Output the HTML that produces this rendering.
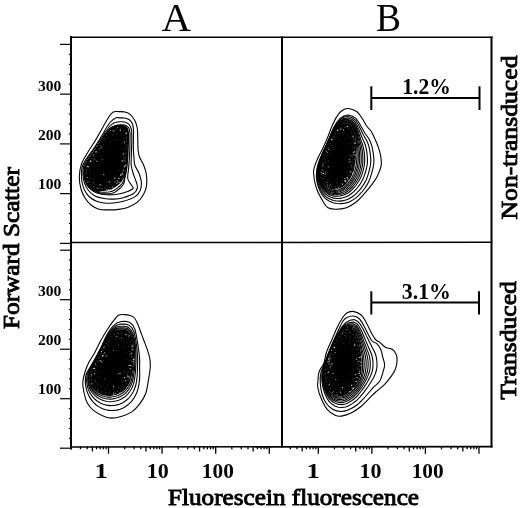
<!DOCTYPE html>
<html><head><meta charset="utf-8"><style>
html,body{margin:0;padding:0;background:#fff;overflow:hidden;width:520px;height:508px;}
svg{display:block;filter:grayscale(1);}
text{font-family:"Liberation Serif",serif;fill:#000;}
</style></head><body>
<svg width="520" height="508" viewBox="0 0 520 508">
<rect width="520" height="508" fill="#fff"/>
<line x1="71.00" y1="36.00" x2="71.00" y2="449.50" stroke="#000" stroke-width="2.00"/>
<line x1="282.00" y1="36.50" x2="282.00" y2="447.50" stroke="#000" stroke-width="2.00"/>
<line x1="491.50" y1="36.50" x2="491.50" y2="447.50" stroke="#000" stroke-width="2.00"/>
<line x1="70.00" y1="37.20" x2="492.50" y2="37.20" stroke="#000" stroke-width="1.40"/>
<line x1="70.00" y1="242.60" x2="492.50" y2="242.30" stroke="#000" stroke-width="1.50"/>
<line x1="70.00" y1="447.00" x2="492.50" y2="446.60" stroke="#000" stroke-width="1.60"/>
<line x1="60.00" y1="44.40" x2="71.00" y2="44.40" stroke="#000" stroke-width="1.20"/>
<line x1="60.00" y1="94.15" x2="71.00" y2="94.15" stroke="#000" stroke-width="1.20"/>
<line x1="60.00" y1="143.90" x2="71.00" y2="143.90" stroke="#000" stroke-width="1.20"/>
<line x1="60.00" y1="193.65" x2="71.00" y2="193.65" stroke="#000" stroke-width="1.20"/>
<line x1="60.00" y1="243.40" x2="71.00" y2="243.40" stroke="#000" stroke-width="1.20"/>
<line x1="68.80" y1="54.35" x2="71.00" y2="54.35" stroke="#000" stroke-width="1.10"/>
<line x1="68.80" y1="64.30" x2="71.00" y2="64.30" stroke="#000" stroke-width="1.10"/>
<line x1="68.80" y1="74.25" x2="71.00" y2="74.25" stroke="#000" stroke-width="1.10"/>
<line x1="68.80" y1="84.20" x2="71.00" y2="84.20" stroke="#000" stroke-width="1.10"/>
<line x1="68.80" y1="104.10" x2="71.00" y2="104.10" stroke="#000" stroke-width="1.10"/>
<line x1="68.80" y1="114.05" x2="71.00" y2="114.05" stroke="#000" stroke-width="1.10"/>
<line x1="68.80" y1="124.00" x2="71.00" y2="124.00" stroke="#000" stroke-width="1.10"/>
<line x1="68.80" y1="133.95" x2="71.00" y2="133.95" stroke="#000" stroke-width="1.10"/>
<line x1="68.80" y1="153.85" x2="71.00" y2="153.85" stroke="#000" stroke-width="1.10"/>
<line x1="68.80" y1="163.80" x2="71.00" y2="163.80" stroke="#000" stroke-width="1.10"/>
<line x1="68.80" y1="173.75" x2="71.00" y2="173.75" stroke="#000" stroke-width="1.10"/>
<line x1="68.80" y1="183.70" x2="71.00" y2="183.70" stroke="#000" stroke-width="1.10"/>
<line x1="68.80" y1="203.60" x2="71.00" y2="203.60" stroke="#000" stroke-width="1.10"/>
<line x1="68.80" y1="213.55" x2="71.00" y2="213.55" stroke="#000" stroke-width="1.10"/>
<line x1="68.80" y1="223.50" x2="71.00" y2="223.50" stroke="#000" stroke-width="1.10"/>
<line x1="68.80" y1="233.45" x2="71.00" y2="233.45" stroke="#000" stroke-width="1.10"/>
<line x1="60.00" y1="250.20" x2="71.00" y2="250.20" stroke="#000" stroke-width="1.20"/>
<line x1="60.00" y1="299.70" x2="71.00" y2="299.70" stroke="#000" stroke-width="1.20"/>
<line x1="60.00" y1="349.20" x2="71.00" y2="349.20" stroke="#000" stroke-width="1.20"/>
<line x1="60.00" y1="398.70" x2="71.00" y2="398.70" stroke="#000" stroke-width="1.20"/>
<line x1="60.00" y1="448.20" x2="71.00" y2="448.20" stroke="#000" stroke-width="1.20"/>
<line x1="68.80" y1="260.10" x2="71.00" y2="260.10" stroke="#000" stroke-width="1.10"/>
<line x1="68.80" y1="270.00" x2="71.00" y2="270.00" stroke="#000" stroke-width="1.10"/>
<line x1="68.80" y1="279.90" x2="71.00" y2="279.90" stroke="#000" stroke-width="1.10"/>
<line x1="68.80" y1="289.80" x2="71.00" y2="289.80" stroke="#000" stroke-width="1.10"/>
<line x1="68.80" y1="309.60" x2="71.00" y2="309.60" stroke="#000" stroke-width="1.10"/>
<line x1="68.80" y1="319.50" x2="71.00" y2="319.50" stroke="#000" stroke-width="1.10"/>
<line x1="68.80" y1="329.40" x2="71.00" y2="329.40" stroke="#000" stroke-width="1.10"/>
<line x1="68.80" y1="339.30" x2="71.00" y2="339.30" stroke="#000" stroke-width="1.10"/>
<line x1="68.80" y1="359.10" x2="71.00" y2="359.10" stroke="#000" stroke-width="1.10"/>
<line x1="68.80" y1="369.00" x2="71.00" y2="369.00" stroke="#000" stroke-width="1.10"/>
<line x1="68.80" y1="378.90" x2="71.00" y2="378.90" stroke="#000" stroke-width="1.10"/>
<line x1="68.80" y1="388.80" x2="71.00" y2="388.80" stroke="#000" stroke-width="1.10"/>
<line x1="68.80" y1="408.60" x2="71.00" y2="408.60" stroke="#000" stroke-width="1.10"/>
<line x1="68.80" y1="418.50" x2="71.00" y2="418.50" stroke="#000" stroke-width="1.10"/>
<line x1="68.80" y1="428.40" x2="71.00" y2="428.40" stroke="#000" stroke-width="1.10"/>
<line x1="68.80" y1="438.30" x2="71.00" y2="438.30" stroke="#000" stroke-width="1.10"/>
<line x1="80.47" y1="446.50" x2="80.47" y2="449.30" stroke="#000" stroke-width="1.30"/>
<line x1="87.17" y1="446.50" x2="87.17" y2="449.30" stroke="#000" stroke-width="1.30"/>
<line x1="92.36" y1="446.50" x2="92.36" y2="451.50" stroke="#000" stroke-width="1.30"/>
<line x1="96.61" y1="446.50" x2="96.61" y2="449.30" stroke="#000" stroke-width="1.30"/>
<line x1="100.20" y1="446.50" x2="100.20" y2="449.30" stroke="#000" stroke-width="1.30"/>
<line x1="103.31" y1="446.50" x2="103.31" y2="449.30" stroke="#000" stroke-width="1.30"/>
<line x1="106.05" y1="446.50" x2="106.05" y2="449.30" stroke="#000" stroke-width="1.30"/>
<line x1="108.50" y1="446.50" x2="108.50" y2="453.80" stroke="#000" stroke-width="1.30"/>
<line x1="124.64" y1="446.50" x2="124.64" y2="449.30" stroke="#000" stroke-width="1.30"/>
<line x1="134.07" y1="446.50" x2="134.07" y2="449.30" stroke="#000" stroke-width="1.30"/>
<line x1="140.77" y1="446.50" x2="140.77" y2="449.30" stroke="#000" stroke-width="1.30"/>
<line x1="145.96" y1="446.50" x2="145.96" y2="451.50" stroke="#000" stroke-width="1.30"/>
<line x1="150.21" y1="446.50" x2="150.21" y2="449.30" stroke="#000" stroke-width="1.30"/>
<line x1="153.80" y1="446.50" x2="153.80" y2="449.30" stroke="#000" stroke-width="1.30"/>
<line x1="156.91" y1="446.50" x2="156.91" y2="449.30" stroke="#000" stroke-width="1.30"/>
<line x1="159.65" y1="446.50" x2="159.65" y2="449.30" stroke="#000" stroke-width="1.30"/>
<line x1="162.10" y1="446.50" x2="162.10" y2="453.80" stroke="#000" stroke-width="1.30"/>
<line x1="178.24" y1="446.50" x2="178.24" y2="449.30" stroke="#000" stroke-width="1.30"/>
<line x1="187.67" y1="446.50" x2="187.67" y2="449.30" stroke="#000" stroke-width="1.30"/>
<line x1="194.37" y1="446.50" x2="194.37" y2="449.30" stroke="#000" stroke-width="1.30"/>
<line x1="199.56" y1="446.50" x2="199.56" y2="451.50" stroke="#000" stroke-width="1.30"/>
<line x1="203.81" y1="446.50" x2="203.81" y2="449.30" stroke="#000" stroke-width="1.30"/>
<line x1="207.40" y1="446.50" x2="207.40" y2="449.30" stroke="#000" stroke-width="1.30"/>
<line x1="210.51" y1="446.50" x2="210.51" y2="449.30" stroke="#000" stroke-width="1.30"/>
<line x1="213.25" y1="446.50" x2="213.25" y2="449.30" stroke="#000" stroke-width="1.30"/>
<line x1="215.70" y1="446.50" x2="215.70" y2="453.80" stroke="#000" stroke-width="1.30"/>
<line x1="231.84" y1="446.50" x2="231.84" y2="449.30" stroke="#000" stroke-width="1.30"/>
<line x1="241.27" y1="446.50" x2="241.27" y2="449.30" stroke="#000" stroke-width="1.30"/>
<line x1="247.97" y1="446.50" x2="247.97" y2="449.30" stroke="#000" stroke-width="1.30"/>
<line x1="253.16" y1="446.50" x2="253.16" y2="451.50" stroke="#000" stroke-width="1.30"/>
<line x1="257.41" y1="446.50" x2="257.41" y2="449.30" stroke="#000" stroke-width="1.30"/>
<line x1="261.00" y1="446.50" x2="261.00" y2="449.30" stroke="#000" stroke-width="1.30"/>
<line x1="264.11" y1="446.50" x2="264.11" y2="449.30" stroke="#000" stroke-width="1.30"/>
<line x1="266.85" y1="446.50" x2="266.85" y2="449.30" stroke="#000" stroke-width="1.30"/>
<line x1="269.30" y1="446.50" x2="269.30" y2="453.80" stroke="#000" stroke-width="1.30"/>
<line x1="290.30" y1="446.50" x2="290.30" y2="449.30" stroke="#000" stroke-width="1.30"/>
<line x1="296.99" y1="446.50" x2="296.99" y2="449.30" stroke="#000" stroke-width="1.30"/>
<line x1="302.18" y1="446.50" x2="302.18" y2="451.50" stroke="#000" stroke-width="1.30"/>
<line x1="306.42" y1="446.50" x2="306.42" y2="449.30" stroke="#000" stroke-width="1.30"/>
<line x1="310.01" y1="446.50" x2="310.01" y2="449.30" stroke="#000" stroke-width="1.30"/>
<line x1="313.11" y1="446.50" x2="313.11" y2="449.30" stroke="#000" stroke-width="1.30"/>
<line x1="315.85" y1="446.50" x2="315.85" y2="449.30" stroke="#000" stroke-width="1.30"/>
<line x1="318.30" y1="446.50" x2="318.30" y2="453.80" stroke="#000" stroke-width="1.30"/>
<line x1="334.42" y1="446.50" x2="334.42" y2="449.30" stroke="#000" stroke-width="1.30"/>
<line x1="343.85" y1="446.50" x2="343.85" y2="449.30" stroke="#000" stroke-width="1.30"/>
<line x1="350.54" y1="446.50" x2="350.54" y2="449.30" stroke="#000" stroke-width="1.30"/>
<line x1="355.73" y1="446.50" x2="355.73" y2="451.50" stroke="#000" stroke-width="1.30"/>
<line x1="359.97" y1="446.50" x2="359.97" y2="449.30" stroke="#000" stroke-width="1.30"/>
<line x1="363.56" y1="446.50" x2="363.56" y2="449.30" stroke="#000" stroke-width="1.30"/>
<line x1="366.66" y1="446.50" x2="366.66" y2="449.30" stroke="#000" stroke-width="1.30"/>
<line x1="369.40" y1="446.50" x2="369.40" y2="449.30" stroke="#000" stroke-width="1.30"/>
<line x1="371.85" y1="446.50" x2="371.85" y2="453.80" stroke="#000" stroke-width="1.30"/>
<line x1="387.97" y1="446.50" x2="387.97" y2="449.30" stroke="#000" stroke-width="1.30"/>
<line x1="397.40" y1="446.50" x2="397.40" y2="449.30" stroke="#000" stroke-width="1.30"/>
<line x1="404.09" y1="446.50" x2="404.09" y2="449.30" stroke="#000" stroke-width="1.30"/>
<line x1="409.28" y1="446.50" x2="409.28" y2="451.50" stroke="#000" stroke-width="1.30"/>
<line x1="413.52" y1="446.50" x2="413.52" y2="449.30" stroke="#000" stroke-width="1.30"/>
<line x1="417.11" y1="446.50" x2="417.11" y2="449.30" stroke="#000" stroke-width="1.30"/>
<line x1="420.21" y1="446.50" x2="420.21" y2="449.30" stroke="#000" stroke-width="1.30"/>
<line x1="422.95" y1="446.50" x2="422.95" y2="449.30" stroke="#000" stroke-width="1.30"/>
<line x1="425.40" y1="446.50" x2="425.40" y2="453.80" stroke="#000" stroke-width="1.30"/>
<line x1="441.52" y1="446.50" x2="441.52" y2="449.30" stroke="#000" stroke-width="1.30"/>
<line x1="450.95" y1="446.50" x2="450.95" y2="449.30" stroke="#000" stroke-width="1.30"/>
<line x1="457.64" y1="446.50" x2="457.64" y2="449.30" stroke="#000" stroke-width="1.30"/>
<line x1="462.83" y1="446.50" x2="462.83" y2="451.50" stroke="#000" stroke-width="1.30"/>
<line x1="467.07" y1="446.50" x2="467.07" y2="449.30" stroke="#000" stroke-width="1.30"/>
<line x1="470.66" y1="446.50" x2="470.66" y2="449.30" stroke="#000" stroke-width="1.30"/>
<line x1="473.76" y1="446.50" x2="473.76" y2="449.30" stroke="#000" stroke-width="1.30"/>
<line x1="476.50" y1="446.50" x2="476.50" y2="449.30" stroke="#000" stroke-width="1.30"/>
<line x1="478.95" y1="446.50" x2="478.95" y2="453.80" stroke="#000" stroke-width="1.30"/>
<line x1="371.30" y1="86.30" x2="371.30" y2="110.00" stroke="#000" stroke-width="2.00"/>
<line x1="479.50" y1="86.30" x2="479.50" y2="110.00" stroke="#000" stroke-width="2.00"/>
<line x1="371.30" y1="98.00" x2="479.50" y2="98.00" stroke="#000" stroke-width="2.00"/>
<line x1="371.30" y1="291.30" x2="371.30" y2="314.50" stroke="#000" stroke-width="2.00"/>
<line x1="479.00" y1="291.30" x2="479.00" y2="314.50" stroke="#000" stroke-width="2.00"/>
<line x1="371.30" y1="302.50" x2="479.00" y2="302.50" stroke="#000" stroke-width="2.00"/>
<path d="M113.20,112.00 C114.95,111.02 117.12,111.62 119.00,111.60 C120.88,111.58 122.75,111.52 124.50,111.90 C126.25,112.28 127.85,112.58 129.50,113.90 C131.15,115.22 133.23,117.95 134.40,119.80 C135.57,121.65 135.98,123.30 136.50,125.00 C137.02,126.70 137.28,127.50 137.50,130.00 C137.72,132.50 137.70,136.67 137.80,140.00 C137.90,143.33 137.82,147.17 138.10,150.00 C138.38,152.83 138.58,154.50 139.50,157.00 C140.42,159.50 142.47,162.20 143.60,165.00 C144.73,167.80 145.80,170.40 146.30,173.80 C146.80,177.20 147.05,182.00 146.60,185.40 C146.15,188.80 145.13,191.40 143.60,194.20 C142.07,197.00 140.05,199.98 137.40,202.20 C134.75,204.42 130.80,206.30 127.70,207.50 C124.60,208.70 122.08,209.00 118.80,209.40 C115.52,209.80 111.30,209.92 108.00,209.90 C104.70,209.88 101.83,210.12 99.00,209.30 C96.17,208.48 93.33,206.88 91.00,205.00 C88.67,203.12 86.67,200.67 85.00,198.00 C83.33,195.33 81.95,192.50 81.00,189.00 C80.05,185.50 79.22,181.17 79.30,177.00 C79.38,172.83 80.05,168.17 81.50,164.00 C82.95,159.83 85.58,156.10 88.00,152.00 C90.42,147.90 93.50,143.57 96.00,139.40 C98.50,135.23 100.92,130.65 103.00,127.00 C105.08,123.35 106.80,120.00 108.50,117.50 C110.20,115.00 111.45,112.98 113.20,112.00Z" fill="none" stroke="#000" stroke-width="1.10"/>
<path d="M116.00,117.70 C117.67,116.93 118.58,117.85 120.00,117.90 C121.42,117.95 123.00,117.73 124.50,118.00 C126.00,118.27 127.70,118.58 129.00,119.50 C130.30,120.42 131.55,121.75 132.30,123.50 C133.05,125.25 133.32,127.25 133.50,130.00 C133.68,132.75 133.42,136.67 133.40,140.00 C133.38,143.33 133.30,147.00 133.40,150.00 C133.50,153.00 133.77,155.50 134.00,158.00 C134.23,160.50 133.93,162.37 134.80,165.00 C135.67,167.63 138.10,170.85 139.20,173.80 C140.30,176.75 141.25,179.88 141.40,182.70 C141.55,185.52 141.20,188.33 140.10,190.70 C139.00,193.07 137.60,195.13 134.80,196.90 C132.00,198.67 126.85,200.28 123.30,201.30 C119.75,202.32 116.72,202.72 113.50,203.00 C110.28,203.28 106.92,203.33 104.00,203.00 C101.08,202.67 98.50,202.08 96.00,201.00 C93.50,199.92 90.92,198.33 89.00,196.50 C87.08,194.67 85.67,192.42 84.50,190.00 C83.33,187.58 82.50,184.50 82.00,182.00 C81.50,179.50 81.47,177.50 81.50,175.00 C81.53,172.50 81.53,169.50 82.20,167.00 C82.87,164.50 83.75,162.83 85.50,160.00 C87.25,157.17 90.62,153.00 92.70,150.00 C94.78,147.00 96.12,145.00 98.00,142.00 C99.88,139.00 102.00,135.25 104.00,132.00 C106.00,128.75 108.00,124.88 110.00,122.50 C112.00,120.12 114.33,118.47 116.00,117.70Z" fill="none" stroke="#000" stroke-width="1.10"/>
<path d="M118.00,122.00 C119.33,121.80 120.67,121.72 122.00,121.80 C123.33,121.88 124.75,121.97 126.00,122.50 C127.25,123.03 128.58,123.75 129.50,125.00 C130.42,126.25 131.12,127.50 131.50,130.00 C131.88,132.50 131.80,136.67 131.80,140.00 C131.80,143.33 131.60,146.67 131.50,150.00 C131.40,153.33 131.25,157.50 131.20,160.00 C131.15,162.50 130.90,162.83 131.20,165.00 C131.50,167.17 132.12,170.05 133.00,173.00 C133.88,175.95 135.77,180.20 136.50,182.70 C137.23,185.20 137.83,186.23 137.40,188.00 C136.97,189.77 136.25,191.68 133.90,193.30 C131.55,194.92 126.70,196.73 123.30,197.70 C119.90,198.67 116.72,198.97 113.50,199.10 C110.28,199.23 107.08,199.02 104.00,198.50 C100.92,197.98 97.58,197.33 95.00,196.00 C92.42,194.67 90.25,192.67 88.50,190.50 C86.75,188.33 85.42,185.58 84.50,183.00 C83.58,180.42 83.17,177.67 83.00,175.00 C82.83,172.33 82.83,169.58 83.50,167.00 C84.17,164.42 85.33,162.33 87.00,159.50 C88.67,156.67 91.50,152.92 93.50,150.00 C95.50,147.08 97.17,144.75 99.00,142.00 C100.83,139.25 102.67,136.17 104.50,133.50 C106.33,130.83 108.42,127.75 110.00,126.00 C111.58,124.25 112.67,123.67 114.00,123.00 C115.33,122.33 116.67,122.20 118.00,122.00Z" fill="none" stroke="#000" stroke-width="1.10"/>
<path d="M118.50,125.00 C119.67,124.83 120.75,124.72 122.00,124.80 C123.25,124.88 124.87,124.97 126.00,125.50 C127.13,126.03 128.13,126.75 128.80,128.00 C129.47,129.25 129.80,131.00 130.00,133.00 C130.20,135.00 130.03,137.17 130.00,140.00 C129.97,142.83 129.93,146.67 129.80,150.00 C129.67,153.33 129.40,156.92 129.20,160.00 C129.00,163.08 128.85,165.45 128.60,168.50 C128.35,171.55 127.40,175.78 127.70,178.30 C128.00,180.82 129.48,181.98 130.40,183.60 C131.32,185.22 132.92,187.07 133.20,188.00 C133.48,188.93 133.02,188.62 132.10,189.20 C131.18,189.78 130.20,190.67 127.70,191.50 C125.20,192.33 120.55,193.65 117.10,194.20 C113.65,194.75 110.35,195.00 107.00,194.80 C103.65,194.60 99.83,194.05 97.00,193.00 C94.17,191.95 91.87,190.33 90.00,188.50 C88.13,186.67 86.80,184.25 85.80,182.00 C84.80,179.75 84.22,177.42 84.00,175.00 C83.78,172.58 83.83,170.00 84.50,167.50 C85.17,165.00 86.33,162.75 88.00,160.00 C89.67,157.25 92.50,153.83 94.50,151.00 C96.50,148.17 98.17,145.75 100.00,143.00 C101.83,140.25 103.67,137.00 105.50,134.50 C107.33,132.00 109.42,129.45 111.00,128.00 C112.58,126.55 113.75,126.30 115.00,125.80 C116.25,125.30 117.33,125.17 118.50,125.00Z" fill="none" stroke="#000" stroke-width="1.10"/>
<path d="M126.98,166.00 L126.82,167.47 L126.64,168.93 L126.44,170.40 L126.19,171.89 L125.89,173.41 L125.55,174.98 L125.17,176.62 L124.81,178.43 L124.52,180.52 L124.06,182.75 L123.13,184.76 L121.81,186.46 L120.27,188.02 L118.56,189.53 L116.70,191.00 L114.65,192.36 L112.38,193.17 L110.00,193.56 L107.57,193.72 L105.12,193.69 L102.65,193.45 L100.19,192.94 L97.79,192.19 L95.44,191.21 L93.19,190.00 L91.09,188.54 L89.23,186.77 L87.79,184.63 L86.77,182.27 L85.96,179.88 L85.35,177.50 L85.04,175.08 L85.01,172.70 L85.15,170.38 L85.51,168.14 L86.13,166.00 L87.00,163.99 L88.02,162.12 L89.07,160.39 L90.13,158.77 L91.21,157.24 L92.28,155.77 L93.33,154.33 L94.37,152.89 L95.41,151.41 L96.48,149.88 L97.59,148.28 L98.77,146.56 L100.05,144.67 L101.45,142.52 L103.03,139.98 L104.90,137.06 L107.20,133.98 L110.00,130.87 L113.29,128.43 L116.79,127.51 L120.40,127.19 L123.99,127.56 L126.97,129.60 L128.33,134.25 L128.30,139.86 L128.20,144.31 L128.08,147.92 L127.96,150.93 L127.86,153.49 L127.76,155.75 L127.65,157.77 L127.53,159.62 L127.40,161.34 L127.26,162.96 L127.12,164.50Z" fill="none" stroke="#000" stroke-width="1.10"/>
<path d="M126.74,166.00 L126.54,167.45 L126.32,168.88 L126.10,170.31 L125.86,171.77 L125.59,173.27 L125.27,174.82 L124.89,176.42 L124.42,178.10 L123.90,179.90 L123.19,181.72 L122.17,183.39 L120.91,184.89 L119.46,186.29 L117.88,187.64 L116.15,188.95 L114.27,190.21 L112.20,191.14 L110.00,191.68 L107.72,192.01 L105.38,192.20 L102.97,192.23 L100.51,192.07 L98.04,191.66 L95.56,191.01 L93.14,190.08 L90.88,188.78 L88.91,187.09 L87.33,185.02 L86.17,182.68 L85.35,180.23 L84.77,177.77 L84.45,175.30 L84.37,172.87 L84.52,170.49 L84.90,168.20 L85.52,166.00 L86.41,163.94 L87.45,162.02 L88.51,160.24 L89.58,158.57 L90.68,156.99 L91.76,155.47 L92.83,153.98 L93.89,152.48 L94.94,150.94 L96.03,149.35 L97.16,147.66 L98.36,145.84 L99.67,143.85 L101.10,141.55 L102.72,138.84 L104.67,135.78 L107.07,132.53 L110.00,129.31 L113.40,127.15 L117.00,126.28 L120.74,125.93 L124.37,126.52 L127.32,128.86 L128.49,133.97 L128.31,139.86 L128.06,144.48 L127.84,148.16 L127.71,151.14 L127.65,153.64 L127.60,155.84 L127.53,157.83 L127.42,159.66 L127.28,161.37 L127.11,162.98 L126.93,164.52Z" fill="none" stroke="#000" stroke-width="1.10"/>
<path d="M119.00,124.80 C121.17,124.50 122.62,124.75 124.00,125.20 C125.38,125.65 126.53,126.37 127.30,127.50 C128.07,128.63 128.43,129.92 128.60,132.00 C128.77,134.08 128.48,137.00 128.30,140.00 C128.12,143.00 127.67,146.67 127.50,150.00 C127.33,153.33 127.57,156.77 127.30,160.00 C127.03,163.23 126.42,166.50 125.90,169.40 C125.38,172.30 125.08,175.18 124.20,177.40 C123.32,179.62 122.08,181.08 120.60,182.70 C119.12,184.32 117.07,185.92 115.30,187.10 C113.53,188.28 112.55,189.12 110.00,189.80 C107.45,190.48 103.08,191.25 100.00,191.20 C96.92,191.15 93.83,190.70 91.50,189.50 C89.17,188.30 87.28,186.42 86.00,184.00 C84.72,181.58 84.03,177.83 83.80,175.00 C83.57,172.17 83.90,169.50 84.60,167.00 C85.30,164.50 86.47,162.58 88.00,160.00 C89.53,157.42 91.92,154.33 93.80,151.50 C95.68,148.67 97.47,145.92 99.30,143.00 C101.13,140.08 102.85,136.67 104.80,134.00 C106.75,131.33 108.63,128.53 111.00,127.00 C113.37,125.47 116.83,125.10 119.00,124.80Z" fill="#000"/>
<path d="M124.85,166.00 L124.63,167.28 L124.40,168.54 L124.18,169.80 L123.97,171.09 L123.75,172.41 L123.49,173.79 L123.14,175.20 L122.64,176.60 L121.95,177.95 L121.09,179.22 L120.09,180.42 L119.00,181.59 L117.79,182.70 L116.47,183.77 L115.04,184.81 L113.50,185.85 L111.82,186.79 L110.00,187.42 L108.09,187.87 L106.08,188.23 L103.97,188.52 L101.75,188.68 L99.46,188.61 L97.11,188.33 L94.77,187.75 L92.61,186.73 L90.72,185.28 L89.18,183.47 L88.02,181.39 L87.26,179.13 L86.77,176.83 L86.46,174.57 L86.36,172.34 L86.49,170.14 L86.86,168.02 L87.43,166.00 L88.23,164.10 L89.18,162.33 L90.15,160.68 L91.13,159.13 L92.13,157.67 L93.12,156.25 L94.10,154.87 L95.07,153.47 L96.03,152.03 L97.02,150.53 L98.05,148.94 L99.16,147.22 L100.36,145.32 L101.67,143.12 L103.18,140.53 L105.00,137.65 L107.25,134.58 L110.00,131.57 L113.16,129.87 L116.50,129.14 L119.97,128.81 L123.27,129.53 L125.90,131.90 L126.78,136.93 L126.48,142.47 L126.12,146.79 L125.84,150.16 L125.71,152.82 L125.69,155.01 L125.69,156.94 L125.67,158.69 L125.59,160.33 L125.45,161.86 L125.27,163.31 L125.06,164.68Z" fill="none" stroke="#fff" stroke-opacity="0.45" stroke-width="0.6" stroke-dasharray="1.5 2.5" stroke-dashoffset="0.0"/>
<path d="M122.87,166.00 L122.68,167.11 L122.48,168.20 L122.29,169.29 L122.11,170.41 L121.92,171.56 L121.69,172.75 L121.39,173.97 L120.95,175.19 L120.36,176.36 L119.61,177.45 L118.75,178.49 L117.80,179.51 L116.75,180.48 L115.61,181.40 L114.37,182.30 L113.03,183.20 L111.58,184.02 L110.00,184.56 L108.34,184.95 L106.60,185.27 L104.77,185.52 L102.85,185.65 L100.86,185.60 L98.82,185.36 L96.80,184.85 L94.93,183.96 L93.29,182.71 L91.95,181.14 L90.95,179.34 L90.29,177.38 L89.87,175.39 L89.60,173.42 L89.51,171.49 L89.63,169.59 L89.94,167.75 L90.44,166.00 L91.13,164.35 L91.96,162.82 L92.80,161.39 L93.64,160.05 L94.51,158.78 L95.37,157.55 L96.22,156.35 L97.06,155.14 L97.89,153.89 L98.75,152.59 L99.64,151.21 L100.60,149.72 L101.64,148.08 L102.78,146.17 L104.09,143.93 L105.67,141.43 L107.62,138.77 L110.00,136.16 L112.74,134.69 L115.63,134.06 L118.64,133.77 L121.50,134.40 L123.78,136.45 L124.55,140.80 L124.28,145.60 L123.97,149.35 L123.73,152.27 L123.61,154.58 L123.60,156.48 L123.60,158.15 L123.58,159.67 L123.51,161.08 L123.39,162.41 L123.23,163.67 L123.06,164.86Z" fill="none" stroke="#fff" stroke-opacity="0.35" stroke-width="0.6" stroke-dasharray="1.2 3.5" stroke-dashoffset="1.0"/>
<path d="M120.23,166.00 L120.08,166.88 L119.92,167.75 L119.77,168.62 L119.63,169.50 L119.47,170.42 L119.29,171.37 L119.05,172.34 L118.70,173.30 L118.23,174.23 L117.64,175.10 L116.95,175.93 L116.20,176.74 L115.37,177.51 L114.46,178.24 L113.47,178.96 L112.41,179.67 L111.25,180.32 L110.00,180.76 L108.68,181.06 L107.30,181.32 L105.84,181.51 L104.31,181.62 L102.74,181.58 L101.12,181.39 L99.51,180.98 L98.02,180.28 L96.72,179.28 L95.66,178.04 L94.86,176.60 L94.34,175.04 L94.00,173.46 L93.79,171.90 L93.71,170.36 L93.81,168.86 L94.06,167.39 L94.45,166.00 L95.00,164.69 L95.66,163.47 L96.33,162.34 L97.00,161.27 L97.69,160.26 L98.37,159.29 L99.05,158.33 L99.71,157.37 L100.38,156.38 L101.06,155.34 L101.77,154.25 L102.53,153.06 L103.36,151.75 L104.26,150.24 L105.30,148.46 L106.56,146.47 L108.11,144.35 L110.00,142.28 L112.18,141.11 L114.48,140.61 L116.87,140.38 L119.14,140.88 L120.95,142.51 L121.56,145.97 L121.35,149.79 L121.11,152.76 L120.91,155.09 L120.82,156.92 L120.81,158.43 L120.81,159.76 L120.79,160.97 L120.74,162.09 L120.64,163.15 L120.52,164.15 L120.38,165.09Z" fill="none" stroke="#fff" stroke-opacity="0.30" stroke-width="0.6" stroke-dasharray="1 5" stroke-dashoffset="2.0"/>
<rect x="94.3" y="158.7" width="0.8" height="0.8" fill="#fff" fill-opacity="0.86"/>
<rect x="119.3" y="182.1" width="1.0" height="0.8" fill="#fff" fill-opacity="0.90"/>
<rect x="93.5" y="182.5" width="0.8" height="1.0" fill="#fff" fill-opacity="0.50"/>
<rect x="110.0" y="129.8" width="0.8" height="0.8" fill="#fff" fill-opacity="0.92"/>
<rect x="121.7" y="174.2" width="1.0" height="0.8" fill="#fff" fill-opacity="0.73"/>
<rect x="111.8" y="186.7" width="1.0" height="1.3" fill="#fff" fill-opacity="0.52"/>
<rect x="114.2" y="181.6" width="1.0" height="0.8" fill="#fff" fill-opacity="0.74"/>
<rect x="97.4" y="187.8" width="1.0" height="0.8" fill="#fff" fill-opacity="0.72"/>
<rect x="120.1" y="174.5" width="1.3" height="1.3" fill="#fff" fill-opacity="0.84"/>
<rect x="125.5" y="132.7" width="1.6" height="1.3" fill="#fff" fill-opacity="0.63"/>
<rect x="86.6" y="176.9" width="1.0" height="0.8" fill="#fff" fill-opacity="0.74"/>
<rect x="121.7" y="160.5" width="1.3" height="1.0" fill="#fff" fill-opacity="0.81"/>
<rect x="86.6" y="166.0" width="1.6" height="1.3" fill="#fff" fill-opacity="0.53"/>
<rect x="93.3" y="154.3" width="1.0" height="1.3" fill="#fff" fill-opacity="0.66"/>
<rect x="122.6" y="178.6" width="1.0" height="1.0" fill="#fff" fill-opacity="0.80"/>
<rect x="122.6" y="153.4" width="1.6" height="1.3" fill="#fff" fill-opacity="0.48"/>
<rect x="118.6" y="178.3" width="0.8" height="0.8" fill="#fff" fill-opacity="0.82"/>
<rect x="89.8" y="160.6" width="1.6" height="1.3" fill="#fff" fill-opacity="0.59"/>
<rect x="100.9" y="146.6" width="1.3" height="1.0" fill="#fff" fill-opacity="0.53"/>
<rect x="116.2" y="183.1" width="1.3" height="0.8" fill="#fff" fill-opacity="0.56"/>
<rect x="87.8" y="166.0" width="1.3" height="1.3" fill="#fff" fill-opacity="0.49"/>
<rect x="119.7" y="129.7" width="1.3" height="1.0" fill="#fff" fill-opacity="0.89"/>
<rect x="113.1" y="130.5" width="1.3" height="1.0" fill="#fff" fill-opacity="0.79"/>
<rect x="99.6" y="147.9" width="1.0" height="1.0" fill="#fff" fill-opacity="0.49"/>
<rect x="108.0" y="189.1" width="1.3" height="1.0" fill="#fff" fill-opacity="0.58"/>
<rect x="123.9" y="166.0" width="1.0" height="1.3" fill="#fff" fill-opacity="0.72"/>
<rect x="95.8" y="160.8" width="1.6" height="0.8" fill="#fff" fill-opacity="0.68"/>
<rect x="125.1" y="164.7" width="1.3" height="1.3" fill="#fff" fill-opacity="0.65"/>
<rect x="116.7" y="180.5" width="1.0" height="0.8" fill="#fff" fill-opacity="0.94"/>
<rect x="116.9" y="127.1" width="1.0" height="0.8" fill="#fff" fill-opacity="0.62"/>
<rect x="121.6" y="172.7" width="1.6" height="0.8" fill="#fff" fill-opacity="0.92"/>
<rect x="123.1" y="169.5" width="0.8" height="1.0" fill="#fff" fill-opacity="0.76"/>
<rect x="108.6" y="181.4" width="1.6" height="1.0" fill="#fff" fill-opacity="0.69"/>
<rect x="114.2" y="177.6" width="1.3" height="1.3" fill="#fff" fill-opacity="0.69"/>
<rect x="89.9" y="160.6" width="1.0" height="1.0" fill="#fff" fill-opacity="0.69"/>
<rect x="105.9" y="189.4" width="1.6" height="0.8" fill="#fff" fill-opacity="0.55"/>
<rect x="123.6" y="159.6" width="0.8" height="1.0" fill="#fff" fill-opacity="0.94"/>
<rect x="118.3" y="177.9" width="1.0" height="1.0" fill="#fff" fill-opacity="0.90"/>
<rect x="95.3" y="151.3" width="1.6" height="1.0" fill="#fff" fill-opacity="0.77"/>
<rect x="99.5" y="184.1" width="1.0" height="1.3" fill="#fff" fill-opacity="0.82"/>
<rect x="87.5" y="181.7" width="0.8" height="0.8" fill="#fff" fill-opacity="0.85"/>
<rect x="124.1" y="141.6" width="1.0" height="1.0" fill="#fff" fill-opacity="0.80"/>
<rect x="101.5" y="158.9" width="1.0" height="1.0" fill="#fff" fill-opacity="0.49"/>
<rect x="117.2" y="181.4" width="1.0" height="1.3" fill="#fff" fill-opacity="0.55"/>
<rect x="102.9" y="174.4" width="1.6" height="0.8" fill="#fff" fill-opacity="0.69"/>
<path d="M348.50,108.50 C350.75,108.83 354.63,110.02 357.00,111.80 C359.37,113.58 361.07,116.80 362.70,119.20 C364.33,121.60 365.42,124.23 366.80,126.20 C368.18,128.17 369.72,129.03 371.00,131.00 C372.28,132.97 373.33,135.45 374.50,138.00 C375.67,140.55 377.00,143.47 378.00,146.30 C379.00,149.13 379.97,151.82 380.50,155.00 C381.03,158.18 381.73,161.87 381.20,165.40 C380.67,168.93 378.97,172.87 377.30,176.20 C375.63,179.53 373.50,182.33 371.20,185.40 C368.90,188.47 366.07,191.78 363.50,194.60 C360.93,197.42 358.63,200.12 355.80,202.30 C352.97,204.48 349.83,206.55 346.50,207.70 C343.17,208.85 338.88,209.20 335.80,209.20 C332.72,209.20 330.05,208.85 328.00,207.70 C325.95,206.55 325.42,205.50 323.50,202.30 C321.58,199.10 318.17,193.38 316.50,188.50 C314.83,183.62 313.75,176.85 313.50,173.00 C313.25,169.15 314.12,168.20 315.00,165.40 C315.88,162.60 317.63,158.77 318.80,156.20 C319.97,153.63 320.58,153.00 322.00,150.00 C323.42,147.00 325.47,142.57 327.30,138.20 C329.13,133.83 331.08,127.88 333.00,123.80 C334.92,119.72 337.05,116.03 338.80,113.70 C340.55,111.37 341.88,110.67 343.50,109.80 C345.12,108.93 346.25,108.17 348.50,108.50Z" fill="none" stroke="#000" stroke-width="1.10"/>
<path d="M373.82,163.00 L373.45,165.93 L372.84,168.79 L372.11,171.60 L371.32,174.40 L370.43,177.19 L369.40,179.97 L368.15,182.71 L366.66,185.37 L364.98,187.98 L363.10,190.53 L361.00,193.00 L358.68,195.35 L356.13,197.59 L353.34,199.66 L350.29,201.40 L346.99,202.65 L343.54,203.42 L340.00,203.72 L336.46,203.49 L333.00,202.71 L329.72,201.37 L326.70,199.54 L324.07,197.17 L321.89,194.36 L320.16,191.33 L318.82,188.24 L317.80,185.20 L317.05,182.25 L316.60,179.39 L316.40,176.63 L316.39,174.01 L316.54,171.54 L316.87,169.20 L317.34,167.00 L317.91,164.93 L318.50,163.00 L319.12,161.17 L319.78,159.43 L320.46,157.76 L321.14,156.14 L321.84,154.53 L322.54,152.92 L323.26,151.28 L324.03,149.60 L324.85,147.85 L325.72,145.98 L326.66,143.95 L327.69,141.69 L328.83,139.05 L330.12,135.86 L331.69,131.98 L333.75,127.53 L336.49,122.89 L340.00,118.40 L344.14,115.71 L348.46,115.00 L352.54,116.20 L356.18,118.55 L358.88,122.52 L361.13,126.40 L363.11,130.00 L364.97,133.25 L366.95,136.05 L368.89,138.75 L370.38,141.73 L371.48,144.82 L372.31,147.94 L372.92,151.02 L373.40,154.05 L373.74,157.05 L373.90,160.03Z" fill="none" stroke="#000" stroke-width="1.10"/>
<path d="M370.68,163.00 L370.34,165.65 L369.81,168.26 L369.16,170.81 L368.45,173.36 L367.66,175.90 L366.73,178.43 L365.61,180.93 L364.29,183.38 L362.79,185.79 L361.10,188.15 L359.23,190.46 L357.14,192.68 L354.83,194.81 L352.30,196.80 L349.52,198.52 L346.49,199.82 L343.30,200.67 L340.00,201.11 L336.67,201.05 L333.39,200.47 L330.26,199.35 L327.36,197.74 L324.78,195.63 L322.62,193.10 L320.88,190.31 L319.50,187.43 L318.45,184.55 L317.68,181.73 L317.20,178.96 L316.98,176.29 L316.96,173.74 L317.09,171.34 L317.39,169.06 L317.83,166.91 L318.34,164.89 L318.89,163.00 L319.46,161.20 L320.07,159.49 L320.71,157.83 L321.37,156.22 L322.04,154.62 L322.72,153.02 L323.43,151.40 L324.19,149.73 L324.99,147.99 L325.85,146.14 L326.78,144.12 L327.80,141.86 L328.93,139.25 L330.22,136.14 L331.80,132.41 L333.86,128.16 L336.57,123.74 L340.00,119.55 L344.02,117.01 L348.21,116.45 L352.13,117.72 L355.58,120.20 L358.11,124.16 L360.13,128.13 L361.86,131.78 L363.43,135.07 L365.09,137.91 L366.70,140.59 L367.94,143.44 L368.85,146.34 L369.53,149.23 L370.03,152.07 L370.41,154.85 L370.67,157.59 L370.78,160.31Z" fill="none" stroke="#000" stroke-width="1.10"/>
<path d="M367.36,163.00 L367.06,165.37 L366.59,167.69 L366.03,169.98 L365.42,172.25 L364.72,174.53 L363.91,176.80 L362.93,179.06 L361.78,181.27 L360.47,183.47 L358.99,185.64 L357.35,187.77 L355.50,189.85 L353.46,191.87 L351.20,193.78 L348.70,195.48 L345.96,196.81 L343.04,197.76 L340.00,198.34 L336.90,198.47 L333.81,198.10 L330.84,197.20 L328.05,195.84 L325.54,194.01 L323.40,191.75 L321.63,189.23 L320.22,186.57 L319.13,183.87 L318.34,181.17 L317.85,178.51 L317.60,175.94 L317.56,173.47 L317.68,171.12 L317.95,168.91 L318.34,166.82 L318.80,164.85 L319.30,163.00 L319.82,161.23 L320.39,159.54 L320.98,157.90 L321.60,156.30 L322.25,154.72 L322.91,153.14 L323.61,151.53 L324.36,149.87 L325.15,148.15 L325.99,146.30 L326.90,144.29 L327.90,142.05 L329.03,139.47 L330.33,136.44 L331.93,132.87 L333.97,128.82 L336.64,124.65 L340.00,120.77 L343.90,118.40 L347.94,117.99 L351.70,119.32 L354.94,121.94 L357.30,125.89 L359.08,129.95 L360.53,133.68 L361.81,137.01 L363.12,139.88 L364.38,142.54 L365.35,145.25 L366.06,147.95 L366.59,150.60 L366.97,153.19 L367.24,155.70 L367.42,158.17 L367.47,160.60Z" fill="none" stroke="#000" stroke-width="1.10"/>
<path d="M364.59,163.00 L364.32,165.13 L363.91,167.22 L363.43,169.28 L362.89,171.33 L362.27,173.39 L361.55,175.44 L360.69,177.49 L359.68,179.52 L358.53,181.53 L357.24,183.54 L355.78,185.53 L354.14,187.49 L352.32,189.41 L350.29,191.26 L348.02,192.94 L345.52,194.31 L342.83,195.33 L340.00,196.03 L337.08,196.32 L334.16,196.13 L331.31,195.41 L328.63,194.25 L326.17,192.65 L324.04,190.64 L322.27,188.33 L320.82,185.85 L319.70,183.30 L318.90,180.71 L318.38,178.14 L318.11,175.64 L318.06,173.23 L318.17,170.95 L318.41,168.78 L318.77,166.74 L319.19,164.82 L319.64,163.00 L320.12,161.26 L320.65,159.59 L321.20,157.96 L321.80,156.37 L322.42,154.80 L323.08,153.23 L323.77,151.63 L324.50,149.99 L325.27,148.27 L326.10,146.43 L327.00,144.43 L327.99,142.20 L329.11,139.66 L330.42,136.69 L332.03,133.25 L334.07,129.37 L336.71,125.40 L340.00,121.79 L343.80,119.55 L347.71,119.28 L351.34,120.66 L354.41,123.40 L356.63,127.34 L358.20,131.47 L359.43,135.25 L360.46,138.62 L361.47,141.53 L362.45,144.16 L363.19,146.76 L363.74,149.30 L364.13,151.75 L364.41,154.11 L364.60,156.41 L364.71,158.64 L364.72,160.84Z" fill="none" stroke="#000" stroke-width="1.10"/>
<path d="M362.75,163.00 L362.49,164.97 L362.13,166.90 L361.69,168.81 L361.20,170.72 L360.64,172.63 L359.99,174.54 L359.20,176.45 L358.29,178.34 L357.24,180.24 L356.06,182.14 L354.73,184.04 L353.23,185.92 L351.55,187.77 L349.68,189.58 L347.57,191.24 L345.23,192.64 L342.69,193.72 L340.00,194.49 L337.21,194.89 L334.39,194.82 L331.63,194.22 L329.01,193.19 L326.60,191.75 L324.48,189.89 L322.69,187.72 L321.22,185.38 L320.08,182.92 L319.26,180.40 L318.74,177.89 L318.45,175.44 L318.39,173.08 L318.49,170.83 L318.72,168.70 L319.05,166.69 L319.44,164.80 L319.87,163.00 L320.32,161.28 L320.82,159.62 L321.35,158.00 L321.93,156.42 L322.54,154.86 L323.18,153.29 L323.87,151.70 L324.59,150.07 L325.36,148.36 L326.17,146.52 L327.06,144.52 L328.05,142.30 L329.17,139.78 L330.49,136.86 L332.09,133.50 L334.13,129.74 L336.75,125.91 L340.00,122.47 L343.73,120.32 L347.56,120.14 L351.10,121.56 L354.06,124.37 L356.18,128.30 L357.62,132.48 L358.69,136.30 L359.56,139.69 L360.38,142.62 L361.16,145.25 L361.75,147.77 L362.19,150.19 L362.50,152.51 L362.71,154.73 L362.84,156.88 L362.90,158.96 L362.88,161.00Z" fill="none" stroke="#000" stroke-width="1.10"/>
<path d="M361.09,163.00 L360.85,164.82 L360.52,166.62 L360.13,168.39 L359.69,170.17 L359.18,171.94 L358.57,173.72 L357.86,175.51 L357.03,177.29 L356.08,179.08 L355.01,180.89 L353.79,182.70 L352.41,184.50 L350.87,186.30 L349.13,188.07 L347.16,189.72 L344.96,191.14 L342.56,192.26 L340.00,193.10 L337.32,193.60 L334.60,193.64 L331.92,193.15 L329.36,192.24 L326.98,190.93 L324.86,189.22 L323.07,187.18 L321.58,184.95 L320.42,182.58 L319.60,180.12 L319.06,177.66 L318.76,175.26 L318.69,172.94 L318.78,170.72 L319.00,168.63 L319.31,166.65 L319.67,164.78 L320.07,163.00 L320.50,161.29 L320.98,159.65 L321.49,158.04 L322.04,156.46 L322.64,154.91 L323.28,153.35 L323.96,151.77 L324.67,150.14 L325.43,148.43 L326.24,146.61 L327.12,144.61 L328.10,142.40 L329.22,139.89 L330.54,137.01 L332.16,133.72 L334.19,130.07 L336.79,126.36 L340.00,123.08 L343.67,121.01 L347.42,120.91 L350.89,122.36 L353.74,125.24 L355.78,129.17 L357.09,133.39 L358.03,137.25 L358.75,140.66 L359.39,143.61 L360.00,146.22 L360.46,148.67 L360.79,150.99 L361.03,153.19 L361.18,155.29 L361.26,157.30 L361.28,159.25 L361.22,161.14Z" fill="none" stroke="#000" stroke-width="1.10"/>
<path d="M359.43,163.00 L359.21,164.68 L358.91,166.34 L358.57,167.97 L358.17,169.61 L357.71,171.26 L357.16,172.91 L356.52,174.57 L355.77,176.24 L354.92,177.92 L353.95,179.63 L352.85,181.36 L351.60,183.09 L350.18,184.83 L348.58,186.56 L346.75,188.20 L344.70,189.63 L342.43,190.81 L340.00,191.72 L337.44,192.30 L334.81,192.45 L332.21,192.08 L329.70,191.29 L327.35,190.12 L325.25,188.55 L323.45,186.64 L321.94,184.52 L320.76,182.24 L319.93,179.84 L319.38,177.44 L319.07,175.08 L318.99,172.80 L319.08,170.62 L319.28,168.55 L319.56,166.60 L319.90,164.76 L320.27,163.00 L320.68,161.31 L321.13,159.67 L321.62,158.08 L322.16,156.51 L322.75,154.96 L323.38,153.40 L324.05,151.83 L324.76,150.21 L325.51,148.51 L326.31,146.69 L327.18,144.70 L328.16,142.49 L329.27,140.00 L330.59,137.16 L332.22,133.95 L334.25,130.40 L336.83,126.81 L340.00,123.69 L343.61,121.70 L347.29,121.68 L350.67,123.17 L353.43,126.11 L355.37,130.03 L356.57,134.30 L357.37,138.20 L357.93,141.63 L358.41,144.59 L358.84,147.19 L359.16,149.58 L359.40,151.80 L359.56,153.88 L359.65,155.85 L359.68,157.73 L359.65,159.54 L359.57,161.29Z" fill="none" stroke="#000" stroke-width="1.10"/>
<path d="M357.95,163.00 L357.75,164.55 L357.49,166.08 L357.18,167.60 L356.82,169.12 L356.40,170.65 L355.91,172.18 L355.33,173.73 L354.66,175.30 L353.89,176.89 L353.02,178.51 L352.02,180.16 L350.87,181.83 L349.57,183.52 L348.09,185.22 L346.39,186.84 L344.46,188.30 L342.32,189.51 L340.00,190.49 L337.54,191.16 L334.99,191.40 L332.46,191.12 L330.01,190.44 L327.69,189.39 L325.59,187.95 L323.78,186.16 L322.26,184.14 L321.07,181.93 L320.22,179.60 L319.67,177.24 L319.34,174.93 L319.25,172.67 L319.33,170.52 L319.53,168.49 L319.79,166.56 L320.11,164.74 L320.46,163.00 L320.84,161.32 L321.27,159.70 L321.74,158.11 L322.27,156.55 L322.84,155.00 L323.46,153.45 L324.13,151.89 L324.83,150.27 L325.58,148.58 L326.37,146.76 L327.24,144.77 L328.20,142.57 L329.32,140.09 L330.64,137.29 L332.27,134.15 L334.30,130.69 L336.87,127.21 L340.00,124.23 L343.56,122.32 L347.17,122.36 L350.48,123.88 L353.14,126.89 L355.01,130.81 L356.10,135.11 L356.78,139.04 L357.21,142.49 L357.53,145.47 L357.81,148.06 L358.01,150.39 L358.16,152.51 L358.25,154.49 L358.28,156.35 L358.27,158.10 L358.20,159.79 L358.10,161.42Z" fill="none" stroke="#000" stroke-width="1.10"/>
<path d="M356.48,163.00 L356.29,164.42 L356.06,165.83 L355.79,167.23 L355.47,168.63 L355.10,170.04 L354.65,171.46 L354.14,172.90 L353.54,174.36 L352.86,175.86 L352.08,177.40 L351.18,178.97 L350.14,180.57 L348.96,182.21 L347.60,183.87 L346.03,185.49 L344.23,186.96 L342.21,188.22 L340.00,189.26 L337.64,190.01 L335.18,190.35 L332.72,190.17 L330.32,189.60 L328.03,188.67 L325.94,187.36 L324.12,185.68 L322.58,183.75 L321.37,181.63 L320.52,179.35 L319.95,177.04 L319.62,174.77 L319.52,172.55 L319.59,170.43 L319.78,168.42 L320.02,166.52 L320.31,164.72 L320.64,163.00 L321.00,161.34 L321.41,159.72 L321.86,158.14 L322.37,156.58 L322.94,155.04 L323.55,153.50 L324.21,151.94 L324.91,150.34 L325.65,148.65 L326.43,146.83 L327.29,144.85 L328.25,142.65 L329.36,140.19 L330.69,137.43 L332.32,134.36 L334.36,130.99 L336.90,127.62 L340.00,124.77 L343.51,122.94 L347.04,123.05 L350.29,124.60 L352.86,127.66 L354.65,131.58 L355.63,135.92 L356.19,139.88 L356.49,143.35 L356.66,146.34 L356.77,148.93 L356.86,151.19 L356.92,153.23 L356.94,155.10 L356.92,156.84 L356.86,158.48 L356.76,160.04 L356.63,161.54Z" fill="none" stroke="#000" stroke-width="1.10"/>
<path d="M345.00,123.30 C346.50,123.38 348.50,123.72 350.00,125.00 C351.50,126.28 353.05,128.50 354.00,131.00 C354.95,133.50 355.37,136.83 355.70,140.00 C356.03,143.17 356.00,146.67 356.00,150.00 C356.00,153.33 356.03,156.67 355.70,160.00 C355.37,163.33 354.95,166.83 354.00,170.00 C353.05,173.17 351.67,176.33 350.00,179.00 C348.33,181.67 346.33,184.25 344.00,186.00 C341.67,187.75 338.67,189.17 336.00,189.50 C333.33,189.83 330.25,189.08 328.00,188.00 C325.75,186.92 323.83,185.00 322.50,183.00 C321.17,181.00 320.42,178.50 320.00,176.00 C319.58,173.50 319.67,171.00 320.00,168.00 C320.33,165.00 321.00,161.33 322.00,158.00 C323.00,154.67 324.50,151.50 326.00,148.00 C327.50,144.50 329.33,140.17 331.00,137.00 C332.67,133.83 334.33,131.08 336.00,129.00 C337.67,126.92 339.50,125.45 341.00,124.50 C342.50,123.55 343.50,123.22 345.00,123.30Z" fill="#000"/>
<path d="M353.83,163.00 L353.67,164.20 L353.49,165.38 L353.27,166.56 L353.02,167.74 L352.71,168.93 L352.34,170.12 L351.92,171.35 L351.43,172.59 L350.88,173.88 L350.24,175.20 L349.50,176.57 L348.64,177.96 L347.65,179.41 L346.51,180.88 L345.18,182.33 L343.64,183.67 L341.91,184.82 L340.00,185.80 L337.94,186.53 L335.78,186.91 L333.62,186.81 L331.50,186.37 L329.45,185.62 L327.58,184.52 L325.94,183.09 L324.54,181.42 L323.44,179.56 L322.66,177.55 L322.15,175.50 L321.84,173.48 L321.75,171.51 L321.81,169.62 L321.96,167.83 L322.17,166.14 L322.42,164.54 L322.70,163.00 L323.01,161.51 L323.36,160.07 L323.76,158.65 L324.20,157.25 L324.71,155.87 L325.25,154.49 L325.84,153.09 L326.47,151.65 L327.13,150.13 L327.83,148.50 L328.60,146.71 L329.46,144.74 L330.46,142.54 L331.66,140.07 L333.13,137.36 L334.95,134.39 L337.24,131.43 L340.00,128.96 L343.12,127.36 L346.26,127.51 L349.13,128.92 L351.39,131.72 L352.95,135.24 L353.75,139.18 L354.17,142.76 L354.36,145.89 L354.40,148.60 L354.40,150.92 L354.40,152.92 L354.39,154.69 L354.37,156.30 L354.31,157.79 L354.23,159.19 L354.11,160.51 L353.98,161.78Z" fill="none" stroke="#fff" stroke-opacity="0.45" stroke-width="0.6" stroke-dasharray="1.5 2.5" stroke-dashoffset="0.0"/>
<path d="M351.99,163.00 L351.85,164.04 L351.69,165.06 L351.50,166.08 L351.28,167.11 L351.01,168.14 L350.70,169.17 L350.33,170.23 L349.91,171.31 L349.43,172.43 L348.87,173.58 L348.23,174.76 L347.49,175.97 L346.63,177.22 L345.64,178.50 L344.49,179.75 L343.16,180.91 L341.65,181.91 L340.00,182.76 L338.22,183.40 L336.35,183.72 L334.47,183.64 L332.63,183.25 L330.86,182.60 L329.23,181.65 L327.81,180.41 L326.60,178.97 L325.65,177.35 L324.97,175.61 L324.53,173.83 L324.26,172.09 L324.18,170.38 L324.24,168.74 L324.37,167.19 L324.55,165.72 L324.76,164.33 L325.00,163.00 L325.28,161.71 L325.58,160.46 L325.92,159.23 L326.31,158.02 L326.75,156.82 L327.22,155.62 L327.73,154.41 L328.27,153.16 L328.84,151.84 L329.45,150.43 L330.12,148.89 L330.86,147.18 L331.73,145.27 L332.77,143.13 L334.04,140.78 L335.63,138.20 L337.61,135.64 L340.00,133.50 L342.70,132.11 L345.42,132.24 L347.91,133.46 L349.87,135.89 L351.22,138.94 L351.92,142.36 L352.28,145.46 L352.44,148.17 L352.48,150.52 L352.48,152.53 L352.48,154.26 L352.47,155.80 L352.45,157.19 L352.40,158.49 L352.33,159.70 L352.23,160.84 L352.11,161.94Z" fill="none" stroke="#fff" stroke-opacity="0.35" stroke-width="0.6" stroke-dasharray="1.2 3.5" stroke-dashoffset="1.0"/>
<path d="M349.53,163.00 L349.42,163.82 L349.29,164.64 L349.14,165.45 L348.97,166.26 L348.75,167.08 L348.50,167.91 L348.21,168.75 L347.88,169.61 L347.49,170.49 L347.05,171.41 L346.54,172.35 L345.95,173.31 L345.27,174.30 L344.48,175.32 L343.57,176.31 L342.51,177.24 L341.32,178.03 L340.00,178.71 L338.58,179.21 L337.10,179.47 L335.60,179.40 L334.14,179.10 L332.74,178.58 L331.44,177.82 L330.31,176.84 L329.35,175.69 L328.59,174.41 L328.06,173.02 L327.70,171.61 L327.49,170.22 L327.43,168.86 L327.47,167.56 L327.58,166.33 L327.72,165.17 L327.89,164.06 L328.08,163.00 L328.30,161.98 L328.54,160.98 L328.81,160.00 L329.12,159.04 L329.46,158.09 L329.84,157.14 L330.25,156.17 L330.68,155.18 L331.13,154.13 L331.62,153.01 L332.14,151.78 L332.74,150.42 L333.43,148.90 L334.25,147.21 L335.27,145.33 L336.52,143.29 L338.10,141.25 L340.00,139.55 L342.15,138.45 L344.31,138.55 L346.29,139.52 L347.84,141.45 L348.92,143.88 L349.47,146.59 L349.76,149.06 L349.89,151.21 L349.92,153.08 L349.92,154.68 L349.92,156.05 L349.92,157.28 L349.90,158.39 L349.86,159.41 L349.80,160.37 L349.72,161.29 L349.63,162.16Z" fill="none" stroke="#fff" stroke-opacity="0.30" stroke-width="0.6" stroke-dasharray="1 5" stroke-dashoffset="2.0"/>
<rect x="326.0" y="151.3" width="0.8" height="0.8" fill="#fff" fill-opacity="0.90"/>
<rect x="326.5" y="182.3" width="1.0" height="0.8" fill="#fff" fill-opacity="0.85"/>
<rect x="331.2" y="138.8" width="1.3" height="1.3" fill="#fff" fill-opacity="0.82"/>
<rect x="350.8" y="175.9" width="1.0" height="0.8" fill="#fff" fill-opacity="0.53"/>
<rect x="352.5" y="136.2" width="1.0" height="1.3" fill="#fff" fill-opacity="0.78"/>
<rect x="327.3" y="152.3" width="0.8" height="0.8" fill="#fff" fill-opacity="0.85"/>
<rect x="346.5" y="177.0" width="1.6" height="1.0" fill="#fff" fill-opacity="0.67"/>
<rect x="327.2" y="185.2" width="1.0" height="1.0" fill="#fff" fill-opacity="0.60"/>
<rect x="322.5" y="173.1" width="1.6" height="1.0" fill="#fff" fill-opacity="0.58"/>
<rect x="337.1" y="129.7" width="1.0" height="1.3" fill="#fff" fill-opacity="0.78"/>
<rect x="354.9" y="154.4" width="1.3" height="1.0" fill="#fff" fill-opacity="0.72"/>
<rect x="348.8" y="158.9" width="1.0" height="0.8" fill="#fff" fill-opacity="0.84"/>
<rect x="337.8" y="187.8" width="1.0" height="1.0" fill="#fff" fill-opacity="0.69"/>
<rect x="344.7" y="180.5" width="1.6" height="1.3" fill="#fff" fill-opacity="0.84"/>
<rect x="347.9" y="180.0" width="1.6" height="0.8" fill="#fff" fill-opacity="0.57"/>
<rect x="322.3" y="164.5" width="1.3" height="0.8" fill="#fff" fill-opacity="0.83"/>
<rect x="352.1" y="173.1" width="1.3" height="1.0" fill="#fff" fill-opacity="0.76"/>
<rect x="354.2" y="151.1" width="1.0" height="1.3" fill="#fff" fill-opacity="0.70"/>
<rect x="354.3" y="142.6" width="1.6" height="1.0" fill="#fff" fill-opacity="0.80"/>
<rect x="328.2" y="166.2" width="1.0" height="1.3" fill="#fff" fill-opacity="0.52"/>
<rect x="344.5" y="179.8" width="1.3" height="1.3" fill="#fff" fill-opacity="0.61"/>
<rect x="322.6" y="173.1" width="1.0" height="0.8" fill="#fff" fill-opacity="0.90"/>
<rect x="337.9" y="187.4" width="1.0" height="1.0" fill="#fff" fill-opacity="0.58"/>
<rect x="341.8" y="183.6" width="0.8" height="1.3" fill="#fff" fill-opacity="0.89"/>
<rect x="335.6" y="188.2" width="1.0" height="1.0" fill="#fff" fill-opacity="0.80"/>
<rect x="353.0" y="153.9" width="1.0" height="1.0" fill="#fff" fill-opacity="0.50"/>
<rect x="328.2" y="149.0" width="0.8" height="1.0" fill="#fff" fill-opacity="0.73"/>
<rect x="346.5" y="126.0" width="1.6" height="1.0" fill="#fff" fill-opacity="0.71"/>
<rect x="350.1" y="171.4" width="0.8" height="1.0" fill="#fff" fill-opacity="0.94"/>
<rect x="347.2" y="178.5" width="1.0" height="1.0" fill="#fff" fill-opacity="0.83"/>
<rect x="340.0" y="128.5" width="1.0" height="1.3" fill="#fff" fill-opacity="0.52"/>
<rect x="351.1" y="155.3" width="0.8" height="1.0" fill="#fff" fill-opacity="0.48"/>
<rect x="330.0" y="184.4" width="1.3" height="0.8" fill="#fff" fill-opacity="0.58"/>
<rect x="351.0" y="164.9" width="0.8" height="1.0" fill="#fff" fill-opacity="0.48"/>
<rect x="344.1" y="178.1" width="1.3" height="0.8" fill="#fff" fill-opacity="0.62"/>
<rect x="349.0" y="161.4" width="1.6" height="1.0" fill="#fff" fill-opacity="0.47"/>
<rect x="324.7" y="171.8" width="0.8" height="1.0" fill="#fff" fill-opacity="0.58"/>
<rect x="328.9" y="186.7" width="1.0" height="1.0" fill="#fff" fill-opacity="0.59"/>
<rect x="353.1" y="152.0" width="1.0" height="1.0" fill="#fff" fill-opacity="0.62"/>
<rect x="354.1" y="165.5" width="0.8" height="1.0" fill="#fff" fill-opacity="0.71"/>
<rect x="320.7" y="172.0" width="1.3" height="0.8" fill="#fff" fill-opacity="0.78"/>
<rect x="342.9" y="129.5" width="1.3" height="1.0" fill="#fff" fill-opacity="0.79"/>
<rect x="324.7" y="173.7" width="1.0" height="1.0" fill="#fff" fill-opacity="0.87"/>
<rect x="341.8" y="183.2" width="0.8" height="1.0" fill="#fff" fill-opacity="0.46"/>
<rect x="322.1" y="169.5" width="1.3" height="1.0" fill="#fff" fill-opacity="0.48"/>
<path d="M118.50,315.20 C120.25,314.27 122.53,314.55 124.50,314.60 C126.47,314.65 128.63,314.93 130.30,315.50 C131.97,316.07 133.28,316.62 134.50,318.00 C135.72,319.38 136.58,321.52 137.60,323.80 C138.62,326.08 139.62,329.08 140.60,331.70 C141.58,334.32 142.52,336.88 143.50,339.50 C144.48,342.12 145.50,344.48 146.50,347.40 C147.50,350.32 148.87,354.23 149.50,357.00 C150.13,359.77 150.22,361.83 150.30,364.00 C150.38,366.17 150.25,367.67 150.00,370.00 C149.75,372.33 149.52,374.08 148.80,378.00 C148.08,381.92 147.25,389.13 145.70,393.50 C144.15,397.87 141.82,401.13 139.50,404.20 C137.18,407.27 134.87,409.85 131.80,411.90 C128.73,413.95 124.43,415.47 121.10,416.50 C117.77,417.53 114.62,418.10 111.80,418.10 C108.98,418.10 107.27,417.78 104.20,416.50 C101.13,415.22 96.23,412.70 93.40,410.40 C90.57,408.10 88.73,405.52 87.20,402.70 C85.67,399.88 84.93,396.83 84.20,393.50 C83.47,390.17 82.67,386.28 82.80,382.70 C82.93,379.12 83.98,375.40 85.00,372.00 C86.02,368.60 87.27,365.55 88.90,362.30 C90.53,359.05 92.83,356.10 94.80,352.50 C96.77,348.90 98.58,344.58 100.70,340.70 C102.82,336.82 105.28,332.62 107.50,329.20 C109.72,325.78 112.17,322.53 114.00,320.20 C115.83,317.87 116.75,316.13 118.50,315.20Z" fill="none" stroke="#000" stroke-width="1.10"/>
<path d="M139.60,368.00 L139.65,370.33 L139.70,372.71 L139.72,375.16 L139.66,377.70 L139.46,380.34 L139.13,383.09 L138.66,385.97 L137.98,388.96 L137.00,392.00 L135.67,395.02 L134.00,398.00 L131.97,400.86 L129.54,403.47 L126.74,405.76 L123.64,407.69 L120.26,409.18 L116.68,410.10 L113.00,410.48 L109.30,410.34 L105.65,409.69 L102.13,408.55 L98.85,406.87 L95.88,404.72 L93.25,402.21 L91.01,399.40 L89.19,396.38 L87.75,393.25 L86.67,390.09 L85.92,386.96 L85.48,383.89 L85.33,380.90 L85.46,378.02 L85.94,375.25 L86.91,372.60 L88.27,370.16 L89.62,368.00 L90.75,366.05 L91.78,364.26 L92.77,362.58 L93.72,360.98 L94.62,359.43 L95.50,357.90 L96.36,356.35 L97.22,354.76 L98.11,353.11 L99.04,351.36 L100.02,349.46 L101.08,347.35 L102.24,344.93 L103.54,342.00 L105.08,338.46 L107.08,334.43 L109.70,330.25 L113.00,326.25 L116.94,322.93 L121.21,321.44 L125.48,321.41 L129.65,322.25 L132.95,325.22 L135.08,329.76 L136.21,334.85 L137.02,339.37 L137.69,343.31 L138.24,346.83 L138.68,350.02 L139.05,352.96 L139.33,355.72 L139.55,358.34 L139.67,360.85 L139.66,363.30 L139.61,365.67Z" fill="none" stroke="#000" stroke-width="1.10"/>
<path d="M137.45,368.00 L137.40,370.14 L137.33,372.29 L137.23,374.49 L137.09,376.77 L136.84,379.12 L136.48,381.55 L135.99,384.10 L135.31,386.72 L134.35,389.35 L133.11,391.97 L131.58,394.54 L129.75,397.01 L127.59,399.28 L125.11,401.26 L122.36,402.93 L119.39,404.24 L116.25,405.11 L113.00,405.56 L109.71,405.59 L106.45,405.17 L103.27,404.31 L100.27,402.99 L97.49,401.27 L94.96,399.24 L92.75,396.93 L90.86,394.38 L89.33,391.67 L88.15,388.85 L87.33,385.98 L86.84,383.11 L86.64,380.29 L86.74,377.56 L87.19,374.92 L88.05,372.40 L89.21,370.08 L90.37,368.00 L91.37,366.11 L92.30,364.35 L93.22,362.70 L94.12,361.13 L94.99,359.60 L95.83,358.09 L96.65,356.55 L97.48,354.97 L98.32,353.32 L99.21,351.56 L100.16,349.67 L101.21,347.58 L102.38,345.24 L103.72,342.49 L105.30,339.26 L107.28,335.58 L109.82,331.67 L113.00,328.04 L116.74,325.23 L120.74,324.08 L124.76,324.10 L128.68,324.92 L131.79,327.70 L133.89,331.81 L135.07,336.48 L135.86,340.76 L136.44,344.56 L136.85,347.99 L137.15,351.09 L137.37,353.93 L137.53,356.56 L137.62,359.04 L137.64,361.40 L137.58,363.67 L137.50,365.86Z" fill="none" stroke="#000" stroke-width="1.10"/>
<path d="M135.69,368.00 L135.57,369.97 L135.39,371.95 L135.20,373.95 L134.99,376.00 L134.69,378.12 L134.31,380.30 L133.80,382.57 L133.12,384.88 L132.19,387.19 L131.01,389.47 L129.61,391.72 L127.94,393.87 L125.99,395.85 L123.77,397.58 L121.32,399.04 L118.68,400.20 L115.89,401.03 L113.00,401.54 L110.05,401.71 L107.10,401.48 L104.20,400.84 L101.42,399.81 L98.80,398.45 L96.36,396.81 L94.16,394.90 L92.23,392.75 L90.61,390.39 L89.35,387.84 L88.48,385.17 L87.95,382.46 L87.72,379.79 L87.79,377.18 L88.21,374.64 L88.99,372.23 L89.99,370.01 L90.99,368.00 L91.87,366.15 L92.73,364.43 L93.59,362.80 L94.45,361.25 L95.29,359.74 L96.11,358.25 L96.89,356.72 L97.68,355.15 L98.49,353.49 L99.35,351.73 L100.28,349.83 L101.32,347.77 L102.50,345.49 L103.86,342.90 L105.48,339.92 L107.45,336.51 L109.92,332.84 L113.00,329.51 L116.58,327.10 L120.36,326.24 L124.17,326.30 L127.89,327.10 L130.85,329.73 L132.92,333.49 L134.14,337.81 L134.91,341.89 L135.42,345.58 L135.72,348.94 L135.89,351.97 L136.00,354.72 L136.05,357.25 L136.04,359.62 L135.98,361.84 L135.88,363.97 L135.77,366.01Z" fill="none" stroke="#000" stroke-width="1.10"/>
<path d="M134.52,368.00 L134.34,369.87 L134.09,371.72 L133.85,373.59 L133.58,375.49 L133.26,377.45 L132.86,379.47 L132.35,381.55 L131.66,383.66 L130.75,385.75 L129.62,387.81 L128.29,389.83 L126.73,391.77 L124.92,393.57 L122.88,395.13 L120.62,396.44 L118.20,397.50 L115.65,398.31 L113.00,398.86 L110.28,399.12 L107.53,399.02 L104.82,398.52 L102.19,397.69 L99.68,396.57 L97.30,395.19 L95.11,393.55 L93.15,391.66 L91.47,389.53 L90.16,387.17 L89.25,384.63 L88.69,382.04 L88.43,379.45 L88.48,376.92 L88.89,374.46 L89.62,372.12 L90.50,369.97 L91.40,368.00 L92.21,366.18 L93.01,364.48 L93.84,362.87 L94.67,361.33 L95.49,359.84 L96.29,358.35 L97.06,356.84 L97.82,355.26 L98.61,353.61 L99.44,351.85 L100.36,349.95 L101.39,347.89 L102.58,345.66 L103.96,343.17 L105.59,340.36 L107.56,337.14 L109.99,333.62 L113.00,330.49 L116.47,328.36 L120.11,327.68 L123.78,327.76 L127.36,328.55 L130.22,331.08 L132.28,334.61 L133.52,338.70 L134.27,342.65 L134.74,346.26 L134.96,349.57 L135.05,352.56 L135.09,355.25 L135.06,357.71 L134.98,360.00 L134.87,362.14 L134.74,364.17 L134.62,366.11Z" fill="none" stroke="#000" stroke-width="1.10"/>
<path d="M133.61,368.00 L133.39,369.78 L133.09,371.54 L132.79,373.30 L132.49,375.09 L132.15,376.93 L131.73,378.82 L131.21,380.75 L130.53,382.71 L129.62,384.62 L128.53,386.51 L127.26,388.36 L125.78,390.14 L124.09,391.79 L122.18,393.22 L120.08,394.42 L117.83,395.41 L115.47,396.19 L113.00,396.77 L110.45,397.10 L107.87,397.10 L105.30,396.72 L102.79,396.05 L100.36,395.11 L98.03,393.93 L95.84,392.50 L93.86,390.81 L92.14,388.86 L90.78,386.64 L89.84,384.21 L89.26,381.70 L88.99,379.19 L89.02,376.73 L89.42,374.32 L90.10,372.04 L90.91,369.93 L91.71,368.00 L92.47,366.20 L93.23,364.51 L94.03,362.92 L94.84,361.39 L95.65,359.91 L96.43,358.43 L97.18,356.92 L97.93,355.35 L98.70,353.70 L99.52,351.93 L100.42,350.03 L101.45,347.99 L102.64,345.79 L104.04,343.38 L105.69,340.70 L107.64,337.63 L110.04,334.22 L113.00,331.25 L116.38,329.33 L119.91,328.81 L123.48,328.90 L126.95,329.69 L129.72,332.13 L131.78,335.48 L133.03,339.39 L133.78,343.24 L134.21,346.79 L134.37,350.07 L134.40,353.01 L134.38,355.66 L134.29,358.07 L134.16,360.30 L134.01,362.37 L133.86,364.32 L133.72,366.19Z" fill="none" stroke="#000" stroke-width="1.10"/>
<path d="M121.50,329.50 C123.33,329.58 125.33,329.42 127.00,330.50 C128.67,331.58 130.38,333.58 131.50,336.00 C132.62,338.42 133.28,341.83 133.70,345.00 C134.12,348.17 134.07,351.67 134.00,355.00 C133.93,358.33 133.53,362.33 133.30,365.00 C133.07,367.67 133.23,368.00 132.60,371.00 C131.97,374.00 131.27,379.50 129.50,383.00 C127.73,386.50 125.25,389.83 122.00,392.00 C118.75,394.17 113.83,395.75 110.00,396.00 C106.17,396.25 102.08,395.00 99.00,393.50 C95.92,392.00 93.12,389.75 91.50,387.00 C89.88,384.25 89.13,380.42 89.30,377.00 C89.47,373.58 91.22,369.75 92.50,366.50 C93.78,363.25 95.50,360.58 97.00,357.50 C98.50,354.42 100.00,350.83 101.50,348.00 C103.00,345.17 104.42,342.92 106.00,340.50 C107.58,338.08 109.33,335.25 111.00,333.50 C112.67,331.75 114.25,330.67 116.00,330.00 C117.75,329.33 119.67,329.42 121.50,329.50Z" fill="#000"/>
<path d="M131.08,368.00 L130.86,369.56 L130.56,371.10 L130.27,372.63 L129.98,374.18 L129.66,375.77 L129.28,377.40 L128.81,379.07 L128.19,380.75 L127.38,382.38 L126.42,383.99 L125.31,385.57 L124.02,387.09 L122.56,388.50 L120.91,389.72 L119.09,390.74 L117.16,391.59 L115.12,392.29 L113.00,392.82 L110.80,393.15 L108.56,393.20 L106.32,392.93 L104.12,392.40 L101.97,391.65 L99.90,390.69 L97.94,389.51 L96.14,388.10 L94.57,386.43 L93.33,384.51 L92.47,382.38 L91.93,380.16 L91.68,377.94 L91.70,375.75 L92.05,373.61 L92.64,371.59 L93.32,369.72 L94.01,368.00 L94.65,366.40 L95.32,364.88 L96.03,363.45 L96.75,362.08 L97.46,360.76 L98.16,359.43 L98.83,358.08 L99.49,356.66 L100.17,355.17 L100.90,353.58 L101.71,351.87 L102.63,350.04 L103.71,348.08 L104.97,345.95 L106.46,343.61 L108.22,340.91 L110.37,337.91 L113.00,335.32 L116.00,333.70 L119.12,333.30 L122.27,333.40 L125.34,334.10 L127.80,336.26 L129.64,339.18 L130.78,342.61 L131.45,346.02 L131.82,349.18 L131.93,352.11 L131.93,354.75 L131.88,357.10 L131.77,359.25 L131.63,361.22 L131.47,363.05 L131.32,364.77 L131.19,366.41Z" fill="none" stroke="#fff" stroke-opacity="0.45" stroke-width="0.6" stroke-dasharray="1.5 2.5" stroke-dashoffset="0.0"/>
<path d="M128.67,368.00 L128.48,369.35 L128.22,370.68 L127.97,372.01 L127.72,373.36 L127.44,374.73 L127.11,376.15 L126.70,377.59 L126.17,379.05 L125.47,380.47 L124.63,381.86 L123.67,383.23 L122.55,384.54 L121.28,385.76 L119.85,386.83 L118.28,387.71 L116.60,388.44 L114.84,389.05 L113.00,389.51 L111.09,389.80 L109.15,389.84 L107.21,389.60 L105.30,389.14 L103.44,388.49 L101.64,387.67 L99.94,386.65 L98.39,385.42 L97.03,383.97 L95.95,382.31 L95.20,380.46 L94.74,378.54 L94.52,376.62 L94.54,374.72 L94.85,372.86 L95.36,371.11 L95.95,369.49 L96.54,368.00 L97.10,366.61 L97.68,365.30 L98.29,364.06 L98.91,362.87 L99.53,361.72 L100.14,360.57 L100.72,359.40 L101.29,358.18 L101.88,356.88 L102.52,355.51 L103.21,354.02 L104.01,352.43 L104.95,350.73 L106.04,348.89 L107.34,346.86 L108.86,344.53 L110.72,341.92 L113.00,339.68 L115.60,338.27 L118.30,337.93 L121.04,338.01 L123.69,338.62 L125.83,340.49 L127.42,343.02 L128.41,345.99 L128.99,348.95 L129.31,351.69 L129.41,354.23 L129.40,356.51 L129.36,358.55 L129.27,360.42 L129.14,362.12 L129.01,363.71 L128.87,365.20 L128.76,366.62Z" fill="none" stroke="#fff" stroke-opacity="0.35" stroke-width="0.6" stroke-dasharray="1.2 3.5" stroke-dashoffset="1.0"/>
<path d="M125.45,368.00 L125.31,369.08 L125.10,370.13 L124.90,371.19 L124.70,372.26 L124.48,373.35 L124.22,374.48 L123.89,375.63 L123.47,376.78 L122.91,377.91 L122.25,379.02 L121.48,380.11 L120.59,381.15 L119.58,382.12 L118.45,382.96 L117.20,383.67 L115.87,384.25 L114.46,384.73 L113.00,385.10 L111.48,385.33 L109.94,385.36 L108.40,385.17 L106.88,384.81 L105.40,384.29 L103.97,383.63 L102.62,382.82 L101.38,381.84 L100.30,380.70 L99.45,379.37 L98.85,377.90 L98.49,376.38 L98.31,374.85 L98.33,373.34 L98.57,371.87 L98.98,370.47 L99.44,369.19 L99.92,368.00 L100.36,366.89 L100.82,365.85 L101.31,364.87 L101.80,363.93 L102.30,363.01 L102.78,362.10 L103.24,361.16 L103.69,360.19 L104.16,359.16 L104.67,358.07 L105.22,356.89 L105.86,355.63 L106.60,354.27 L107.47,352.81 L108.50,351.20 L109.71,349.34 L111.19,347.27 L113.00,345.49 L115.07,344.37 L117.21,344.10 L119.39,344.16 L121.50,344.65 L123.20,346.14 L124.46,348.15 L125.25,350.51 L125.71,352.86 L125.96,355.04 L126.04,357.06 L126.04,358.87 L126.00,360.49 L125.93,361.97 L125.83,363.33 L125.72,364.59 L125.62,365.78 L125.53,366.90Z" fill="none" stroke="#fff" stroke-opacity="0.30" stroke-width="0.6" stroke-dasharray="1 5" stroke-dashoffset="2.0"/>
<rect x="104.1" y="352.5" width="1.0" height="1.0" fill="#fff" fill-opacity="0.80"/>
<rect x="127.1" y="374.6" width="1.3" height="1.0" fill="#fff" fill-opacity="0.53"/>
<rect x="121.1" y="337.6" width="1.0" height="1.0" fill="#fff" fill-opacity="0.57"/>
<rect x="95.1" y="363.2" width="1.0" height="1.0" fill="#fff" fill-opacity="0.54"/>
<rect x="99.5" y="360.2" width="1.6" height="1.0" fill="#fff" fill-opacity="0.57"/>
<rect x="129.7" y="368.0" width="0.8" height="1.0" fill="#fff" fill-opacity="0.86"/>
<rect x="113.0" y="394.2" width="0.8" height="1.0" fill="#fff" fill-opacity="0.60"/>
<rect x="91.3" y="383.2" width="0.8" height="1.0" fill="#fff" fill-opacity="0.78"/>
<rect x="103.2" y="347.0" width="1.3" height="1.0" fill="#fff" fill-opacity="0.59"/>
<rect x="113.0" y="385.9" width="0.8" height="1.3" fill="#fff" fill-opacity="0.82"/>
<rect x="130.4" y="353.4" width="1.6" height="0.8" fill="#fff" fill-opacity="0.86"/>
<rect x="94.9" y="380.7" width="0.8" height="0.8" fill="#fff" fill-opacity="0.47"/>
<rect x="102.3" y="355.3" width="1.3" height="0.8" fill="#fff" fill-opacity="0.76"/>
<rect x="132.6" y="360.9" width="1.0" height="1.3" fill="#fff" fill-opacity="0.58"/>
<rect x="125.2" y="334.4" width="1.6" height="0.8" fill="#fff" fill-opacity="0.78"/>
<rect x="124.0" y="377.2" width="1.3" height="1.0" fill="#fff" fill-opacity="0.85"/>
<rect x="90.9" y="373.9" width="1.0" height="1.3" fill="#fff" fill-opacity="0.70"/>
<rect x="105.7" y="355.4" width="0.8" height="1.3" fill="#fff" fill-opacity="0.91"/>
<rect x="93.0" y="368.0" width="1.0" height="0.8" fill="#fff" fill-opacity="0.75"/>
<rect x="101.5" y="361.4" width="1.0" height="1.0" fill="#fff" fill-opacity="0.76"/>
<rect x="115.2" y="392.9" width="1.0" height="0.8" fill="#fff" fill-opacity="0.80"/>
<rect x="132.5" y="344.8" width="1.0" height="1.0" fill="#fff" fill-opacity="0.68"/>
<rect x="128.2" y="335.4" width="1.6" height="1.0" fill="#fff" fill-opacity="0.61"/>
<rect x="117.6" y="373.5" width="1.3" height="0.8" fill="#fff" fill-opacity="0.59"/>
<rect x="125.1" y="380.1" width="1.3" height="1.0" fill="#fff" fill-opacity="0.64"/>
<rect x="104.1" y="378.7" width="0.8" height="0.8" fill="#fff" fill-opacity="0.52"/>
<rect x="132.8" y="358.8" width="1.6" height="1.0" fill="#fff" fill-opacity="0.89"/>
<rect x="102.3" y="355.3" width="1.0" height="1.3" fill="#fff" fill-opacity="0.90"/>
<rect x="131.4" y="346.1" width="1.3" height="1.3" fill="#fff" fill-opacity="0.65"/>
<rect x="113.0" y="393.4" width="1.3" height="1.0" fill="#fff" fill-opacity="0.64"/>
<rect x="119.4" y="392.0" width="1.0" height="1.3" fill="#fff" fill-opacity="0.51"/>
<rect x="97.1" y="390.7" width="0.8" height="1.0" fill="#fff" fill-opacity="0.58"/>
<rect x="119.2" y="373.2" width="1.6" height="0.8" fill="#fff" fill-opacity="0.63"/>
<rect x="113.0" y="349.9" width="1.0" height="0.8" fill="#fff" fill-opacity="0.59"/>
<rect x="129.4" y="377.5" width="1.0" height="1.0" fill="#fff" fill-opacity="0.94"/>
<rect x="115.8" y="335.8" width="1.6" height="1.0" fill="#fff" fill-opacity="0.54"/>
<rect x="101.1" y="351.0" width="0.8" height="1.3" fill="#fff" fill-opacity="0.91"/>
<rect x="128.7" y="365.2" width="1.6" height="1.0" fill="#fff" fill-opacity="0.81"/>
<rect x="127.3" y="376.3" width="1.6" height="1.0" fill="#fff" fill-opacity="0.77"/>
<rect x="93.8" y="368.0" width="1.3" height="0.8" fill="#fff" fill-opacity="0.91"/>
<rect x="129.8" y="365.0" width="1.0" height="1.0" fill="#fff" fill-opacity="0.60"/>
<rect x="93.9" y="373.1" width="1.3" height="1.0" fill="#fff" fill-opacity="0.60"/>
<rect x="132.1" y="366.3" width="1.0" height="0.8" fill="#fff" fill-opacity="0.55"/>
<rect x="131.9" y="349.1" width="1.6" height="1.0" fill="#fff" fill-opacity="0.68"/>
<rect x="100.5" y="360.8" width="1.0" height="1.0" fill="#fff" fill-opacity="0.57"/>
<path d="M346.50,313.20 C348.32,311.98 350.45,311.10 352.90,311.40 C355.35,311.70 358.92,313.02 361.20,315.00 C363.48,316.98 364.78,320.10 366.60,323.30 C368.42,326.50 370.53,331.42 372.10,334.20 C373.67,336.98 374.72,338.63 376.00,340.00 C377.28,341.37 378.25,341.20 379.80,342.40 C381.35,343.60 383.23,346.05 385.30,347.20 C387.37,348.35 390.37,348.03 392.20,349.30 C394.03,350.57 395.50,352.73 396.30,354.80 C397.10,356.87 397.22,359.17 397.00,361.70 C396.78,364.23 396.03,367.48 395.00,370.00 C393.97,372.52 392.65,374.28 390.80,376.80 C388.95,379.32 386.42,382.57 383.90,385.10 C381.38,387.63 378.22,389.70 375.70,392.00 C373.18,394.30 371.25,396.48 368.80,398.90 C366.35,401.32 363.97,404.13 361.00,406.50 C358.03,408.87 354.25,411.50 351.00,413.10 C347.75,414.70 344.07,415.70 341.50,416.10 C338.93,416.50 337.95,416.58 335.60,415.50 C333.25,414.42 329.77,412.35 327.40,409.60 C325.03,406.85 322.98,402.60 321.40,399.00 C319.82,395.40 318.48,390.95 317.90,388.00 C317.32,385.05 317.70,384.00 317.90,381.30 C318.10,378.60 318.12,374.77 319.10,371.80 C320.08,368.83 322.58,366.72 323.80,363.50 C325.02,360.28 325.05,356.47 326.40,352.50 C327.75,348.53 330.07,343.97 331.90,339.70 C333.73,335.43 335.72,330.40 337.40,326.90 C339.08,323.40 340.48,320.98 342.00,318.70 C343.52,316.42 344.68,314.42 346.50,313.20Z" fill="none" stroke="#000" stroke-width="1.10"/>
<path d="M347.00,317.50 C348.65,316.67 350.90,315.83 352.90,316.00 C354.90,316.17 357.15,316.83 359.00,318.50 C360.85,320.17 362.50,323.42 364.00,326.00 C365.50,328.58 366.67,331.50 368.00,334.00 C369.33,336.50 370.50,339.37 372.00,341.00 C373.50,342.63 375.50,342.30 377.00,343.80 C378.50,345.30 380.08,347.93 381.00,350.00 C381.92,352.07 381.90,353.80 382.50,356.20 C383.10,358.60 384.48,361.88 384.60,364.40 C384.72,366.92 384.00,368.53 383.20,371.30 C382.40,374.07 381.52,378.23 379.80,381.00 C378.08,383.77 375.37,385.23 372.90,387.90 C370.43,390.57 367.65,394.15 365.00,397.00 C362.35,399.85 359.83,402.83 357.00,405.00 C354.17,407.17 350.67,408.92 348.00,410.00 C345.33,411.08 343.50,411.58 341.00,411.50 C338.50,411.42 335.50,410.92 333.00,409.50 C330.50,408.08 327.83,405.58 326.00,403.00 C324.17,400.42 322.95,397.33 322.00,394.00 C321.05,390.67 320.50,386.50 320.30,383.00 C320.10,379.50 320.18,376.00 320.80,373.00 C321.42,370.00 322.80,368.17 324.00,365.00 C325.20,361.83 326.50,357.83 328.00,354.00 C329.50,350.17 331.25,346.00 333.00,342.00 C334.75,338.00 336.83,333.50 338.50,330.00 C340.17,326.50 341.58,323.08 343.00,321.00 C344.42,318.92 345.35,318.33 347.00,317.50Z" fill="none" stroke="#000" stroke-width="1.10"/>
<path d="M376.99,365.00 L376.80,368.04 L376.21,371.03 L375.25,373.91 L374.01,376.65 L372.60,379.27 L371.11,381.81 L369.55,384.29 L367.90,386.74 L366.16,389.16 L364.32,391.60 L362.36,394.07 L360.26,396.62 L357.94,399.18 L355.31,401.57 L352.36,403.66 L349.14,405.50 L345.67,406.99 L342.00,407.57 L338.31,407.18 L334.78,405.93 L331.60,403.82 L328.85,401.13 L326.70,397.80 L325.12,394.23 L323.94,390.80 L323.07,387.56 L322.46,384.54 L322.07,381.72 L321.88,379.09 L321.85,376.63 L321.99,374.33 L322.27,372.18 L322.72,370.17 L323.33,368.29 L323.99,366.58 L324.61,365.00 L325.18,363.53 L325.72,362.13 L326.25,360.78 L326.79,359.46 L327.32,358.15 L327.86,356.84 L328.43,355.50 L329.02,354.11 L329.65,352.65 L330.34,351.10 L331.10,349.43 L331.95,347.59 L332.91,345.51 L334.03,343.10 L335.36,340.20 L336.96,336.42 L339.08,331.68 L342.00,326.92 L345.70,322.76 L349.88,320.32 L354.16,319.61 L357.87,321.39 L360.69,324.93 L362.93,328.76 L364.80,332.44 L366.44,335.87 L368.00,339.00 L369.48,341.94 L370.89,344.77 L372.28,347.52 L373.72,350.21 L375.04,352.97 L376.00,355.89 L376.59,358.90 L376.92,361.95Z" fill="none" stroke="#000" stroke-width="1.10"/>
<path d="M373.02,365.00 L372.87,367.70 L372.41,370.36 L371.67,372.95 L370.70,375.45 L369.59,377.86 L368.38,380.23 L367.08,382.56 L365.66,384.85 L364.14,387.14 L362.50,389.43 L360.73,391.76 L358.82,394.14 L356.70,396.52 L354.28,398.75 L351.57,400.73 L348.61,402.49 L345.41,403.95 L342.00,404.63 L338.55,404.40 L335.24,403.35 L332.21,401.55 L329.56,399.19 L327.45,396.21 L325.85,392.97 L324.62,389.83 L323.66,386.86 L322.96,384.04 L322.50,381.36 L322.27,378.81 L322.23,376.41 L322.35,374.16 L322.59,372.06 L322.98,370.10 L323.49,368.26 L324.06,366.57 L324.63,365.00 L325.16,363.53 L325.68,362.12 L326.20,360.77 L326.72,359.44 L327.24,358.12 L327.77,356.78 L328.33,355.42 L328.91,354.02 L329.54,352.54 L330.23,350.97 L330.98,349.27 L331.83,347.38 L332.79,345.25 L333.91,342.77 L335.26,339.84 L336.93,336.22 L339.11,331.95 L342.00,327.93 L345.54,324.58 L349.48,322.58 L353.50,322.08 L357.01,323.76 L359.59,327.27 L361.57,331.10 L363.19,334.73 L364.59,338.08 L365.88,341.12 L367.10,343.94 L368.25,346.62 L369.36,349.20 L370.49,351.71 L371.52,354.26 L372.25,356.89 L372.71,359.58 L372.96,362.29Z" fill="none" stroke="#000" stroke-width="1.10"/>
<path d="M370.27,365.00 L370.15,367.46 L369.79,369.90 L369.19,372.29 L368.41,374.61 L367.50,376.89 L366.49,379.14 L365.36,381.36 L364.11,383.55 L362.74,385.74 L361.24,387.93 L359.61,390.15 L357.83,392.42 L355.84,394.68 L353.57,396.80 L351.03,398.71 L348.24,400.41 L345.22,401.85 L342.00,402.59 L338.72,402.47 L335.55,401.57 L332.63,399.98 L330.05,397.84 L327.96,395.10 L326.36,392.09 L325.08,389.16 L324.07,386.37 L323.31,383.69 L322.80,381.11 L322.55,378.62 L322.50,376.26 L322.60,374.05 L322.82,371.98 L323.16,370.05 L323.61,368.24 L324.12,366.56 L324.64,365.00 L325.14,363.53 L325.65,362.12 L326.16,360.76 L326.67,359.42 L327.18,358.09 L327.70,356.75 L328.25,355.37 L328.84,353.96 L329.47,352.47 L330.15,350.88 L330.91,349.16 L331.75,347.24 L332.70,345.06 L333.82,342.54 L335.19,339.58 L336.90,336.08 L339.13,332.14 L342.00,328.63 L345.43,325.83 L349.20,324.14 L353.04,323.79 L356.41,325.40 L358.84,328.89 L360.64,332.72 L362.09,336.32 L363.30,339.61 L364.41,342.59 L365.45,345.33 L366.42,347.90 L367.34,350.37 L368.26,352.75 L369.08,355.14 L369.66,357.59 L370.03,360.06 L370.23,362.53Z" fill="none" stroke="#000" stroke-width="1.10"/>
<path d="M368.13,365.00 L368.03,367.28 L367.74,369.54 L367.26,371.77 L366.63,373.96 L365.88,376.13 L365.01,378.29 L364.03,380.42 L362.90,382.54 L361.65,384.65 L360.26,386.76 L358.74,388.90 L357.06,391.08 L355.17,393.24 L353.02,395.28 L350.61,397.13 L347.96,398.79 L345.08,400.21 L342.00,401.01 L338.85,400.97 L335.80,400.18 L332.95,398.76 L330.43,396.80 L328.37,394.24 L326.75,391.41 L325.45,388.64 L324.39,385.99 L323.58,383.42 L323.03,380.91 L322.76,378.47 L322.70,376.14 L322.79,373.96 L322.99,371.92 L323.30,370.01 L323.70,368.23 L324.16,366.56 L324.64,365.00 L325.13,363.52 L325.63,362.11 L326.13,360.75 L326.63,359.41 L327.13,358.07 L327.65,356.72 L328.20,355.34 L328.78,353.91 L329.41,352.41 L330.09,350.81 L330.84,349.07 L331.68,347.13 L332.64,344.92 L333.76,342.36 L335.14,339.38 L336.88,335.97 L339.14,332.29 L342.00,329.17 L345.34,326.81 L348.99,325.36 L352.69,325.12 L355.95,326.67 L358.25,330.15 L359.91,333.98 L361.22,337.55 L362.30,340.80 L363.27,343.73 L364.16,346.40 L364.99,348.90 L365.77,351.28 L366.53,353.56 L367.18,355.83 L367.65,358.13 L367.94,360.43 L368.10,362.72Z" fill="none" stroke="#000" stroke-width="1.10"/>
<path d="M366.15,365.00 L366.07,367.11 L365.85,369.20 L365.47,371.29 L364.97,373.36 L364.37,375.43 L363.65,377.50 L362.79,379.56 L361.78,381.60 L360.63,383.63 L359.35,385.68 L357.93,387.74 L356.34,389.84 L354.55,391.91 L352.51,393.87 L350.22,395.67 L347.69,397.29 L344.95,398.69 L342.00,399.54 L338.97,399.58 L336.02,398.89 L333.26,397.63 L330.78,395.83 L328.74,393.44 L327.11,390.78 L325.79,388.15 L324.69,385.63 L323.83,383.17 L323.25,380.73 L322.96,378.33 L322.89,376.03 L322.97,373.87 L323.16,371.86 L323.43,369.98 L323.78,368.21 L324.20,366.56 L324.65,365.00 L325.12,363.52 L325.61,362.11 L326.10,360.74 L326.59,359.39 L327.09,358.05 L327.60,356.69 L328.15,355.30 L328.73,353.86 L329.35,352.35 L330.03,350.74 L330.79,348.99 L331.63,347.03 L332.58,344.79 L333.70,342.19 L335.09,339.20 L336.86,335.87 L339.15,332.42 L342.00,329.68 L345.26,327.72 L348.79,326.49 L352.35,326.36 L355.52,327.86 L357.70,331.32 L359.24,335.15 L360.42,338.69 L361.37,341.91 L362.21,344.79 L362.97,347.41 L363.67,349.83 L364.31,352.12 L364.92,354.31 L365.42,356.48 L365.78,358.63 L366.00,360.77 L366.12,362.89Z" fill="none" stroke="#000" stroke-width="1.10"/>
<path d="M364.16,365.00 L364.11,366.93 L363.95,368.87 L363.68,370.81 L363.32,372.76 L362.86,374.73 L362.28,376.71 L361.55,378.69 L360.66,380.66 L359.62,382.62 L358.44,384.59 L357.11,386.59 L355.62,388.60 L353.93,390.58 L352.00,392.46 L349.83,394.21 L347.43,395.79 L344.81,397.17 L342.00,398.07 L339.10,398.19 L336.25,397.60 L333.56,396.49 L331.13,394.86 L329.11,392.64 L327.48,390.15 L326.13,387.67 L324.98,385.28 L324.08,382.92 L323.47,380.55 L323.16,378.19 L323.08,375.92 L323.15,373.79 L323.32,371.80 L323.56,369.94 L323.87,368.20 L324.24,366.55 L324.66,365.00 L325.11,363.52 L325.58,362.11 L326.07,360.73 L326.56,359.38 L327.05,358.03 L327.56,356.66 L328.09,355.26 L328.67,353.82 L329.30,352.30 L329.98,350.67 L330.73,348.91 L331.57,346.93 L332.51,344.66 L333.64,342.02 L335.04,339.02 L336.85,335.77 L339.16,332.56 L342.00,330.18 L345.18,328.63 L348.59,327.62 L352.02,327.59 L355.09,329.04 L357.16,332.49 L358.56,336.32 L359.62,339.84 L360.45,343.02 L361.15,345.85 L361.78,348.41 L362.35,350.75 L362.86,352.96 L363.30,355.07 L363.66,357.12 L363.90,359.13 L364.06,361.11 L364.14,363.06Z" fill="none" stroke="#000" stroke-width="1.10"/>
<path d="M362.63,365.00 L362.59,366.80 L362.49,368.61 L362.30,370.44 L362.04,372.30 L361.70,374.19 L361.23,376.10 L360.60,378.02 L359.80,379.94 L358.84,381.84 L357.74,383.76 L356.49,385.69 L355.07,387.64 L353.45,389.56 L351.60,391.38 L349.52,393.08 L347.22,394.63 L344.71,396.00 L342.00,396.94 L339.19,397.11 L336.43,396.61 L333.80,395.62 L331.40,394.12 L329.40,392.02 L327.76,389.67 L326.39,387.30 L325.21,385.01 L324.27,382.73 L323.63,380.41 L323.31,378.09 L323.23,375.84 L323.29,373.72 L323.44,371.75 L323.66,369.91 L323.93,368.19 L324.27,366.55 L324.66,365.00 L325.10,363.52 L325.57,362.10 L326.05,360.73 L326.53,359.37 L327.02,358.01 L327.52,356.64 L328.05,355.23 L328.63,353.78 L329.25,352.25 L329.94,350.62 L330.69,348.84 L331.52,346.85 L332.47,344.56 L333.59,341.89 L335.00,338.87 L336.83,335.69 L339.17,332.66 L342.00,330.57 L345.12,329.33 L348.44,328.48 L351.77,328.54 L354.76,329.95 L356.74,333.39 L358.04,337.22 L359.00,340.72 L359.73,343.87 L360.33,346.67 L360.86,349.18 L361.33,351.46 L361.73,353.61 L362.06,355.64 L362.31,357.61 L362.46,359.52 L362.57,361.37 L362.62,363.20Z" fill="none" stroke="#000" stroke-width="1.10"/>
<path d="M351.00,329.00 C352.50,329.25 353.87,329.50 355.00,331.00 C356.13,332.50 356.97,335.17 357.80,338.00 C358.63,340.83 359.38,344.67 360.00,348.00 C360.62,351.33 361.25,354.33 361.50,358.00 C361.75,361.67 361.83,366.50 361.50,370.00 C361.17,373.50 360.75,376.00 359.50,379.00 C358.25,382.00 356.08,385.50 354.00,388.00 C351.92,390.50 349.33,392.58 347.00,394.00 C344.67,395.42 342.50,396.50 340.00,396.50 C337.50,396.50 334.25,395.58 332.00,394.00 C329.75,392.42 327.92,389.50 326.50,387.00 C325.08,384.50 323.92,382.17 323.50,379.00 C323.08,375.83 323.42,371.50 324.00,368.00 C324.58,364.50 325.83,361.33 327.00,358.00 C328.17,354.67 329.60,351.33 331.00,348.00 C332.40,344.67 333.90,340.67 335.40,338.00 C336.90,335.33 338.23,333.42 340.00,332.00 C341.77,330.58 344.17,330.00 346.00,329.50 C347.83,329.00 349.50,328.75 351.00,329.00Z" fill="#000"/>
<path d="M359.75,365.00 L359.72,366.55 L359.65,368.11 L359.53,369.70 L359.35,371.32 L359.10,372.98 L358.74,374.66 L358.22,376.36 L357.55,378.05 L356.74,379.74 L355.79,381.43 L354.70,383.14 L353.47,384.86 L352.05,386.55 L350.43,388.16 L348.61,389.66 L346.59,391.04 L344.39,392.27 L342.00,393.14 L339.52,393.32 L337.08,392.92 L334.74,392.09 L332.61,390.80 L330.81,388.99 L329.33,386.94 L328.09,384.87 L327.01,382.86 L326.14,380.86 L325.56,378.80 L325.26,376.72 L325.18,374.71 L325.24,372.82 L325.36,371.05 L325.55,369.41 L325.77,367.86 L326.06,366.39 L326.40,365.00 L326.79,363.67 L327.20,362.39 L327.63,361.15 L328.07,359.93 L328.50,358.70 L328.95,357.46 L329.43,356.20 L329.94,354.88 L330.51,353.51 L331.12,352.03 L331.79,350.43 L332.55,348.62 L333.39,346.55 L334.41,344.13 L335.68,341.41 L337.34,338.58 L339.46,335.95 L342.00,334.22 L344.78,333.27 L347.71,332.60 L350.66,332.70 L353.30,333.95 L355.04,337.04 L356.16,340.48 L356.97,343.62 L357.57,346.44 L358.06,348.94 L358.48,351.17 L358.85,353.20 L359.15,355.10 L359.39,356.89 L359.54,358.61 L359.64,360.27 L359.70,361.88 L359.74,363.45Z" fill="none" stroke="#fff" stroke-opacity="0.45" stroke-width="0.6" stroke-dasharray="1.5 2.5" stroke-dashoffset="0.0"/>
<path d="M357.38,365.00 L357.36,366.34 L357.30,367.70 L357.19,369.07 L357.04,370.47 L356.82,371.91 L356.51,373.37 L356.06,374.85 L355.48,376.31 L354.77,377.77 L353.95,379.24 L353.01,380.72 L351.94,382.21 L350.71,383.68 L349.30,385.07 L347.73,386.38 L345.98,387.57 L344.07,388.64 L342.00,389.39 L339.85,389.55 L337.73,389.19 L335.71,388.48 L333.86,387.36 L332.31,385.79 L331.02,384.01 L329.94,382.22 L329.01,380.48 L328.26,378.74 L327.75,376.96 L327.49,375.16 L327.43,373.41 L327.47,371.78 L327.58,370.25 L327.74,368.82 L327.94,367.48 L328.18,366.21 L328.48,365.00 L328.82,363.85 L329.18,362.74 L329.55,361.66 L329.92,360.60 L330.30,359.54 L330.69,358.47 L331.10,357.37 L331.55,356.23 L332.04,355.04 L332.57,353.76 L333.16,352.37 L333.81,350.81 L334.54,349.01 L335.42,346.92 L336.52,344.56 L337.96,342.10 L339.80,339.83 L342.00,338.33 L344.41,337.50 L346.95,336.92 L349.50,337.00 L351.80,338.09 L353.30,340.77 L354.27,343.75 L354.97,346.47 L355.50,348.91 L355.92,351.08 L356.28,353.02 L356.60,354.78 L356.87,356.42 L357.07,357.97 L357.20,359.47 L357.29,360.90 L357.34,362.29 L357.37,363.65Z" fill="none" stroke="#fff" stroke-opacity="0.35" stroke-width="0.6" stroke-dasharray="1.2 3.5" stroke-dashoffset="1.0"/>
<path d="M354.23,365.00 L354.21,366.07 L354.16,367.14 L354.08,368.24 L353.95,369.35 L353.78,370.49 L353.53,371.66 L353.18,372.83 L352.71,373.99 L352.15,375.15 L351.50,376.32 L350.75,377.50 L349.90,378.68 L348.92,379.85 L347.81,380.95 L346.55,381.99 L345.16,382.94 L343.64,383.79 L342.00,384.38 L340.29,384.51 L338.61,384.23 L337.00,383.66 L335.53,382.77 L334.29,381.53 L333.28,380.11 L332.42,378.69 L331.68,377.30 L331.08,375.92 L330.67,374.50 L330.47,373.07 L330.42,371.69 L330.45,370.39 L330.54,369.17 L330.67,368.04 L330.82,366.97 L331.02,365.96 L331.25,365.00 L331.52,364.08 L331.81,363.20 L332.10,362.35 L332.40,361.51 L332.70,360.66 L333.01,359.81 L333.34,358.94 L333.70,358.03 L334.08,357.08 L334.50,356.07 L334.97,354.96 L335.49,353.72 L336.07,352.29 L336.77,350.63 L337.65,348.75 L338.79,346.80 L340.25,344.99 L342.00,343.80 L343.91,343.14 L345.94,342.68 L347.96,342.75 L349.79,343.61 L350.98,345.74 L351.75,348.11 L352.31,350.27 L352.73,352.21 L353.06,353.94 L353.35,355.48 L353.61,356.87 L353.82,358.18 L353.98,359.41 L354.09,360.60 L354.15,361.74 L354.20,362.85 L354.22,363.93Z" fill="none" stroke="#fff" stroke-opacity="0.30" stroke-width="0.6" stroke-dasharray="1 5" stroke-dashoffset="2.0"/>
<rect x="332.1" y="392.2" width="1.0" height="0.8" fill="#fff" fill-opacity="0.61"/>
<rect x="331.2" y="349.6" width="0.8" height="1.3" fill="#fff" fill-opacity="0.64"/>
<rect x="355.8" y="358.6" width="1.0" height="1.3" fill="#fff" fill-opacity="0.59"/>
<rect x="354.8" y="374.0" width="1.0" height="1.0" fill="#fff" fill-opacity="0.79"/>
<rect x="360.4" y="356.4" width="1.0" height="0.8" fill="#fff" fill-opacity="0.59"/>
<rect x="327.8" y="371.6" width="1.3" height="1.0" fill="#fff" fill-opacity="0.87"/>
<rect x="357.5" y="367.7" width="1.0" height="0.8" fill="#fff" fill-opacity="0.66"/>
<rect x="353.8" y="344.6" width="0.8" height="1.3" fill="#fff" fill-opacity="0.92"/>
<rect x="360.3" y="356.4" width="1.3" height="1.3" fill="#fff" fill-opacity="0.57"/>
<rect x="352.6" y="387.7" width="0.8" height="1.3" fill="#fff" fill-opacity="0.49"/>
<rect x="358.6" y="372.8" width="0.8" height="1.0" fill="#fff" fill-opacity="0.57"/>
<rect x="359.1" y="371.2" width="1.0" height="1.0" fill="#fff" fill-opacity="0.71"/>
<rect x="344.6" y="335.0" width="0.8" height="0.8" fill="#fff" fill-opacity="0.49"/>
<rect x="358.7" y="357.2" width="1.0" height="1.0" fill="#fff" fill-opacity="0.85"/>
<rect x="360.7" y="365.0" width="0.8" height="1.0" fill="#fff" fill-opacity="0.95"/>
<rect x="329.7" y="366.1" width="1.0" height="1.3" fill="#fff" fill-opacity="0.71"/>
<rect x="360.1" y="361.8" width="1.0" height="0.8" fill="#fff" fill-opacity="0.93"/>
<rect x="328.2" y="361.3" width="1.3" height="0.8" fill="#fff" fill-opacity="0.58"/>
<rect x="342.0" y="332.5" width="1.0" height="1.0" fill="#fff" fill-opacity="0.70"/>
<rect x="328.7" y="355.7" width="1.3" height="1.0" fill="#fff" fill-opacity="0.45"/>
<rect x="328.6" y="363.8" width="1.6" height="0.8" fill="#fff" fill-opacity="0.55"/>
<rect x="328.9" y="383.7" width="1.0" height="1.3" fill="#fff" fill-opacity="0.56"/>
<rect x="331.5" y="364.1" width="0.8" height="1.3" fill="#fff" fill-opacity="0.76"/>
<rect x="332.5" y="373.0" width="0.8" height="1.0" fill="#fff" fill-opacity="0.91"/>
<rect x="359.7" y="375.2" width="1.0" height="0.8" fill="#fff" fill-opacity="0.94"/>
<rect x="342.0" y="386.9" width="1.0" height="1.3" fill="#fff" fill-opacity="0.67"/>
<rect x="329.2" y="360.4" width="0.8" height="0.8" fill="#fff" fill-opacity="0.92"/>
<rect x="329.2" y="357.6" width="1.6" height="1.3" fill="#fff" fill-opacity="0.47"/>
<rect x="334.6" y="352.2" width="1.0" height="1.0" fill="#fff" fill-opacity="0.67"/>
<rect x="351.2" y="384.7" width="1.0" height="1.3" fill="#fff" fill-opacity="0.93"/>
<rect x="349.0" y="391.0" width="1.6" height="1.0" fill="#fff" fill-opacity="0.64"/>
<rect x="327.7" y="361.2" width="0.8" height="1.3" fill="#fff" fill-opacity="0.55"/>
<rect x="357.5" y="360.9" width="1.3" height="1.0" fill="#fff" fill-opacity="0.61"/>
<rect x="354.2" y="343.8" width="1.3" height="0.8" fill="#fff" fill-opacity="0.64"/>
<rect x="355.8" y="335.5" width="0.8" height="0.8" fill="#fff" fill-opacity="0.58"/>
<rect x="356.5" y="377.2" width="1.0" height="1.0" fill="#fff" fill-opacity="0.93"/>
<rect x="358.7" y="372.8" width="1.0" height="1.0" fill="#fff" fill-opacity="0.91"/>
<rect x="331.6" y="363.2" width="0.8" height="0.8" fill="#fff" fill-opacity="0.86"/>
<rect x="352.6" y="387.7" width="1.3" height="1.3" fill="#fff" fill-opacity="0.93"/>
<rect x="333.6" y="347.0" width="1.3" height="1.0" fill="#fff" fill-opacity="0.91"/>
<rect x="335.4" y="379.1" width="0.8" height="1.0" fill="#fff" fill-opacity="0.86"/>
<rect x="339.7" y="391.6" width="1.0" height="1.3" fill="#fff" fill-opacity="0.63"/>
<rect x="355.4" y="381.0" width="1.6" height="1.0" fill="#fff" fill-opacity="0.65"/>
<rect x="336.8" y="394.5" width="0.8" height="1.3" fill="#fff" fill-opacity="0.73"/>
<rect x="328.2" y="358.6" width="1.0" height="1.3" fill="#fff" fill-opacity="0.89"/>
<text x="161.50" y="31.00" font-size="41.00" font-weight="normal" text-anchor="start" >A</text>
<text x="376.00" y="31.00" font-size="41.00" font-weight="normal" text-anchor="start" textLength="25.00" lengthAdjust="spacingAndGlyphs" >B</text>
<text x="61.30" y="90.60" font-size="15.60" font-weight="bold" text-anchor="end" >300</text>
<text x="61.30" y="139.90" font-size="15.60" font-weight="bold" text-anchor="end" >200</text>
<text x="61.30" y="188.60" font-size="15.60" font-weight="bold" text-anchor="end" >100</text>
<text x="61.30" y="296.00" font-size="15.60" font-weight="bold" text-anchor="end" >300</text>
<text x="61.30" y="345.20" font-size="15.60" font-weight="bold" text-anchor="end" >200</text>
<text x="61.30" y="393.70" font-size="15.60" font-weight="bold" text-anchor="end" >100</text>
<text x="94.50" y="478.20" font-size="22.00" font-weight="bold" text-anchor="start" textLength="13.30" lengthAdjust="spacingAndGlyphs" >1</text>
<text x="146.80" y="478.20" font-size="22.00" font-weight="bold" text-anchor="start" textLength="22.00" lengthAdjust="spacingAndGlyphs" >10</text>
<text x="201.80" y="478.20" font-size="22.00" font-weight="bold" text-anchor="start" textLength="32.00" lengthAdjust="spacingAndGlyphs" >100</text>
<text x="306.60" y="478.20" font-size="22.00" font-weight="bold" text-anchor="start" textLength="13.30" lengthAdjust="spacingAndGlyphs" >1</text>
<text x="359.40" y="478.20" font-size="22.00" font-weight="bold" text-anchor="start" textLength="22.00" lengthAdjust="spacingAndGlyphs" >10</text>
<text x="411.70" y="478.20" font-size="22.00" font-weight="bold" text-anchor="start" textLength="32.00" lengthAdjust="spacingAndGlyphs" >100</text>
<text x="402.30" y="93.80" font-size="22.70" font-weight="bold" text-anchor="start" textLength="48.50" lengthAdjust="spacingAndGlyphs" >1.2%</text>
<text x="401.80" y="298.70" font-size="22.70" font-weight="bold" text-anchor="start" textLength="49.00" lengthAdjust="spacingAndGlyphs" >3.1%</text>
<text x="168.00" y="505.00" font-size="22.50" font-weight="normal" stroke="#000" stroke-width="0.9" text-anchor="start" textLength="251.00" lengthAdjust="spacingAndGlyphs" >Fluorescein fluorescence</text>
<text transform="translate(18.9,329) rotate(-90)" x="0" y="0" font-size="23" font-weight="normal" stroke="#000" stroke-width="0.9" textLength="162" lengthAdjust="spacingAndGlyphs">Forward Scatter</text>
<text transform="translate(516.8,219.5) rotate(-90)" x="0" y="0" font-size="23" font-weight="normal" stroke="#000" stroke-width="0.9" textLength="164" lengthAdjust="spacingAndGlyphs">Non-transduced</text>
<text transform="translate(516.3,399.7) rotate(-90)" x="0" y="0" font-size="23" font-weight="normal" stroke="#000" stroke-width="0.9" textLength="118.5" lengthAdjust="spacingAndGlyphs">Transduced</text>
</svg>
</body></html>
